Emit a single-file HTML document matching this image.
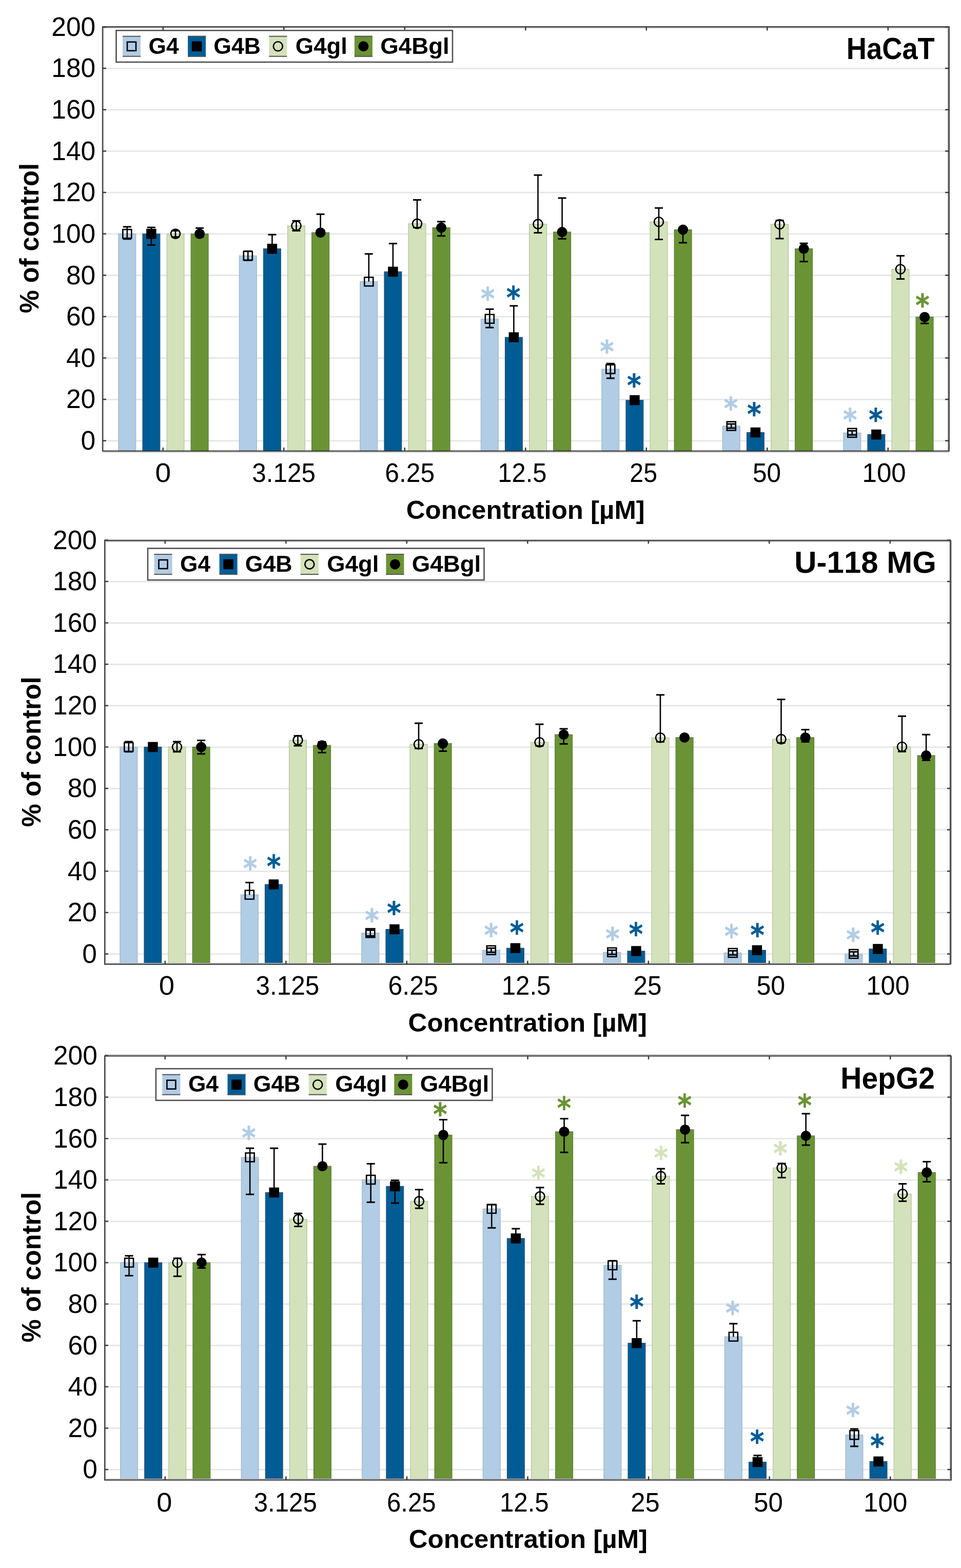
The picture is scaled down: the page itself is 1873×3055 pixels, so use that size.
<!DOCTYPE html>
<html><head><meta charset="utf-8"><title>Cell viability charts</title>
<style>html,body{margin:0;padding:0;background:#fff}svg{display:block} text{font-kerning:none;font-feature-settings:"kern" 0}</style></head>
<body>
<svg width="1873" height="3055" viewBox="0 0 1873 3055">
<rect width="1873" height="3055" fill="#fff"/>
<line x1="200" y1="858.90" x2="1849" y2="858.90" stroke="#e6e6e6" stroke-width="2.8"/>
<line x1="200" y1="778.28" x2="1849" y2="778.28" stroke="#e6e6e6" stroke-width="2.8"/>
<line x1="200" y1="697.66" x2="1849" y2="697.66" stroke="#e6e6e6" stroke-width="2.8"/>
<line x1="200" y1="617.04" x2="1849" y2="617.04" stroke="#e6e6e6" stroke-width="2.8"/>
<line x1="200" y1="536.42" x2="1849" y2="536.42" stroke="#e6e6e6" stroke-width="2.8"/>
<line x1="200" y1="455.80" x2="1849" y2="455.80" stroke="#e6e6e6" stroke-width="2.8"/>
<line x1="200" y1="375.18" x2="1849" y2="375.18" stroke="#e6e6e6" stroke-width="2.8"/>
<line x1="200" y1="294.56" x2="1849" y2="294.56" stroke="#e6e6e6" stroke-width="2.8"/>
<line x1="200" y1="213.94" x2="1849" y2="213.94" stroke="#e6e6e6" stroke-width="2.8"/>
<line x1="200" y1="133.32" x2="1849" y2="133.32" stroke="#e6e6e6" stroke-width="2.8"/>
<line x1="200" y1="52.70" x2="1849" y2="52.70" stroke="#e6e6e6" stroke-width="2.8"/>
<rect x="230.90" y="455.60" width="33.8" height="423.40" fill="#b1cce5" stroke="#9fb4c8" stroke-width="1.2"/>
<rect x="278.00" y="455.60" width="33.8" height="423.40" fill="#005c95" stroke="#2b5578" stroke-width="1.2"/>
<rect x="325.10" y="455.60" width="33.8" height="423.40" fill="#d3e2ba" stroke="#b3c19f" stroke-width="1.2"/>
<rect x="372.20" y="455.60" width="33.8" height="423.40" fill="#6a9335" stroke="#5b7a3a" stroke-width="1.2"/>
<rect x="466.40" y="498.33" width="33.8" height="380.67" fill="#b1cce5" stroke="#9fb4c8" stroke-width="1.2"/>
<rect x="513.50" y="484.62" width="33.8" height="394.38" fill="#005c95" stroke="#2b5578" stroke-width="1.2"/>
<rect x="560.60" y="439.88" width="33.8" height="439.12" fill="#d3e2ba" stroke="#b3c19f" stroke-width="1.2"/>
<rect x="607.70" y="453.18" width="33.8" height="425.82" fill="#6a9335" stroke="#5b7a3a" stroke-width="1.2"/>
<rect x="701.90" y="548.72" width="33.8" height="330.28" fill="#b1cce5" stroke="#9fb4c8" stroke-width="1.2"/>
<rect x="749.00" y="529.37" width="33.8" height="349.63" fill="#005c95" stroke="#2b5578" stroke-width="1.2"/>
<rect x="796.10" y="435.85" width="33.8" height="443.15" fill="#d3e2ba" stroke="#b3c19f" stroke-width="1.2"/>
<rect x="843.20" y="443.51" width="33.8" height="435.49" fill="#6a9335" stroke="#5b7a3a" stroke-width="1.2"/>
<rect x="937.40" y="621.27" width="33.8" height="257.73" fill="#b1cce5" stroke="#9fb4c8" stroke-width="1.2"/>
<rect x="984.50" y="657.15" width="33.8" height="221.85" fill="#005c95" stroke="#2b5578" stroke-width="1.2"/>
<rect x="1031.60" y="436.65" width="33.8" height="442.35" fill="#d3e2ba" stroke="#b3c19f" stroke-width="1.2"/>
<rect x="1078.70" y="451.97" width="33.8" height="427.03" fill="#6a9335" stroke="#5b7a3a" stroke-width="1.2"/>
<rect x="1172.90" y="719.23" width="33.8" height="159.77" fill="#b1cce5" stroke="#9fb4c8" stroke-width="1.2"/>
<rect x="1220.00" y="779.69" width="33.8" height="99.31" fill="#005c95" stroke="#2b5578" stroke-width="1.2"/>
<rect x="1267.10" y="432.22" width="33.8" height="446.78" fill="#d3e2ba" stroke="#b3c19f" stroke-width="1.2"/>
<rect x="1314.20" y="447.54" width="33.8" height="431.46" fill="#6a9335" stroke="#5b7a3a" stroke-width="1.2"/>
<rect x="1408.40" y="830.08" width="33.8" height="48.92" fill="#b1cce5" stroke="#9fb4c8" stroke-width="1.2"/>
<rect x="1455.50" y="842.58" width="33.8" height="36.42" fill="#005c95" stroke="#2b5578" stroke-width="1.2"/>
<rect x="1502.60" y="437.06" width="33.8" height="441.94" fill="#d3e2ba" stroke="#b3c19f" stroke-width="1.2"/>
<rect x="1549.70" y="484.62" width="33.8" height="394.38" fill="#6a9335" stroke="#5b7a3a" stroke-width="1.2"/>
<rect x="1643.90" y="843.38" width="33.8" height="35.62" fill="#b1cce5" stroke="#9fb4c8" stroke-width="1.2"/>
<rect x="1691.00" y="846.61" width="33.8" height="32.39" fill="#005c95" stroke="#2b5578" stroke-width="1.2"/>
<rect x="1738.10" y="524.53" width="33.8" height="354.47" fill="#d3e2ba" stroke="#b3c19f" stroke-width="1.2"/>
<rect x="1785.20" y="617.65" width="33.8" height="261.35" fill="#6a9335" stroke="#5b7a3a" stroke-width="1.2"/>
<line x1="247.80" y1="441.89" x2="247.80" y2="465.68" stroke="#000" stroke-width="2.6"/>
<line x1="239.80" y1="441.89" x2="255.80" y2="441.89" stroke="#000" stroke-width="3"/>
<line x1="239.80" y1="465.68" x2="255.80" y2="465.68" stroke="#000" stroke-width="3"/>
<rect x="239.30" y="447.10" width="17" height="17" fill="none" stroke="#000" stroke-width="2.6"/>
<line x1="294.90" y1="443.10" x2="294.90" y2="477.37" stroke="#000" stroke-width="2.6"/>
<line x1="286.90" y1="443.10" x2="302.90" y2="443.10" stroke="#000" stroke-width="3"/>
<line x1="286.90" y1="477.37" x2="302.90" y2="477.37" stroke="#000" stroke-width="3"/>
<rect x="285.15" y="445.85" width="19.5" height="19.5" fill="#000"/>
<line x1="342.00" y1="449.55" x2="342.00" y2="461.65" stroke="#000" stroke-width="2.6"/>
<line x1="334.00" y1="449.55" x2="350.00" y2="449.55" stroke="#000" stroke-width="3"/>
<line x1="334.00" y1="461.65" x2="350.00" y2="461.65" stroke="#000" stroke-width="3"/>
<circle cx="342.00" cy="455.60" r="9" fill="none" stroke="#000" stroke-width="2.6"/>
<line x1="389.10" y1="444.31" x2="389.10" y2="461.65" stroke="#000" stroke-width="2.6"/>
<line x1="381.10" y1="444.31" x2="397.10" y2="444.31" stroke="#000" stroke-width="3"/>
<line x1="381.10" y1="461.65" x2="397.10" y2="461.65" stroke="#000" stroke-width="3"/>
<circle cx="389.10" cy="455.60" r="10" fill="#000"/>
<line x1="483.30" y1="489.46" x2="483.30" y2="507.20" stroke="#000" stroke-width="2.6"/>
<line x1="475.30" y1="489.46" x2="491.30" y2="489.46" stroke="#000" stroke-width="3"/>
<line x1="475.30" y1="507.20" x2="491.30" y2="507.20" stroke="#000" stroke-width="3"/>
<rect x="474.80" y="489.83" width="17" height="17" fill="none" stroke="#000" stroke-width="2.6"/>
<line x1="530.40" y1="457.21" x2="530.40" y2="484.62" stroke="#000" stroke-width="2.6"/>
<line x1="522.40" y1="457.21" x2="538.40" y2="457.21" stroke="#000" stroke-width="3"/>
<rect x="520.65" y="474.87" width="19.5" height="19.5" fill="#000"/>
<line x1="577.50" y1="430.20" x2="577.50" y2="449.55" stroke="#000" stroke-width="2.6"/>
<line x1="569.50" y1="430.20" x2="585.50" y2="430.20" stroke="#000" stroke-width="3"/>
<line x1="569.50" y1="449.55" x2="585.50" y2="449.55" stroke="#000" stroke-width="3"/>
<circle cx="577.50" cy="439.88" r="9" fill="none" stroke="#000" stroke-width="2.6"/>
<line x1="624.60" y1="417.31" x2="624.60" y2="453.18" stroke="#000" stroke-width="2.6"/>
<line x1="616.60" y1="417.31" x2="632.60" y2="417.31" stroke="#000" stroke-width="3"/>
<circle cx="624.60" cy="453.18" r="10" fill="#000"/>
<line x1="718.80" y1="494.70" x2="718.80" y2="548.72" stroke="#000" stroke-width="2.6"/>
<line x1="710.80" y1="494.70" x2="726.80" y2="494.70" stroke="#000" stroke-width="3"/>
<rect x="710.30" y="540.22" width="17" height="17" fill="none" stroke="#000" stroke-width="2.6"/>
<line x1="765.90" y1="474.55" x2="765.90" y2="529.37" stroke="#000" stroke-width="2.6"/>
<line x1="757.90" y1="474.55" x2="773.90" y2="474.55" stroke="#000" stroke-width="3"/>
<rect x="756.15" y="519.62" width="19.5" height="19.5" fill="#000"/>
<line x1="813.00" y1="389.49" x2="813.00" y2="443.51" stroke="#000" stroke-width="2.6"/>
<line x1="805.00" y1="389.49" x2="821.00" y2="389.49" stroke="#000" stroke-width="3"/>
<line x1="805.00" y1="443.51" x2="821.00" y2="443.51" stroke="#000" stroke-width="3"/>
<circle cx="813.00" cy="435.85" r="9" fill="none" stroke="#000" stroke-width="2.6"/>
<line x1="860.10" y1="431.82" x2="860.10" y2="459.63" stroke="#000" stroke-width="2.6"/>
<line x1="852.10" y1="431.82" x2="868.10" y2="431.82" stroke="#000" stroke-width="3"/>
<line x1="852.10" y1="459.63" x2="868.10" y2="459.63" stroke="#000" stroke-width="3"/>
<circle cx="860.10" cy="443.51" r="10" fill="#000"/>
<line x1="954.30" y1="602.33" x2="954.30" y2="638.20" stroke="#000" stroke-width="2.6"/>
<line x1="946.30" y1="602.33" x2="962.30" y2="602.33" stroke="#000" stroke-width="3"/>
<line x1="946.30" y1="638.20" x2="962.30" y2="638.20" stroke="#000" stroke-width="3"/>
<rect x="945.80" y="612.77" width="17" height="17" fill="none" stroke="#000" stroke-width="2.6"/>
<text transform="translate(936.95,602.28) scale(0.9,1)" font-family="'DejaVu Sans', sans-serif" font-weight="bold" font-size="58" fill="#b1cce5" stroke="#b1cce5" stroke-width="0.6">*</text>
<line x1="1001.40" y1="595.88" x2="1001.40" y2="657.15" stroke="#000" stroke-width="2.6"/>
<line x1="993.40" y1="595.88" x2="1009.40" y2="595.88" stroke="#000" stroke-width="3"/>
<rect x="991.65" y="647.40" width="19.5" height="19.5" fill="#000"/>
<text transform="translate(986.95,599.88) scale(0.9,1)" font-family="'DejaVu Sans', sans-serif" font-weight="bold" font-size="58" fill="#005c95" stroke="#005c95" stroke-width="0.6">*</text>
<line x1="1048.50" y1="341.12" x2="1048.50" y2="453.58" stroke="#000" stroke-width="2.6"/>
<line x1="1040.50" y1="341.12" x2="1056.50" y2="341.12" stroke="#000" stroke-width="3"/>
<line x1="1040.50" y1="453.58" x2="1056.50" y2="453.58" stroke="#000" stroke-width="3"/>
<circle cx="1048.50" cy="436.65" r="9" fill="none" stroke="#000" stroke-width="2.6"/>
<line x1="1095.60" y1="385.86" x2="1095.60" y2="465.27" stroke="#000" stroke-width="2.6"/>
<line x1="1087.60" y1="385.86" x2="1103.60" y2="385.86" stroke="#000" stroke-width="3"/>
<line x1="1087.60" y1="465.27" x2="1103.60" y2="465.27" stroke="#000" stroke-width="3"/>
<circle cx="1095.60" cy="451.97" r="10" fill="#000"/>
<line x1="1189.80" y1="708.34" x2="1189.80" y2="736.96" stroke="#000" stroke-width="2.6"/>
<line x1="1181.80" y1="708.34" x2="1197.80" y2="708.34" stroke="#000" stroke-width="3"/>
<line x1="1181.80" y1="736.96" x2="1197.80" y2="736.96" stroke="#000" stroke-width="3"/>
<rect x="1181.30" y="710.73" width="17" height="17" fill="none" stroke="#000" stroke-width="2.6"/>
<text transform="translate(1169.35,705.48) scale(0.9,1)" font-family="'DejaVu Sans', sans-serif" font-weight="bold" font-size="58" fill="#b1cce5" stroke="#b1cce5" stroke-width="0.6">*</text>
<line x1="1236.90" y1="775.66" x2="1236.90" y2="783.72" stroke="#000" stroke-width="2.6"/>
<line x1="1228.90" y1="775.66" x2="1244.90" y2="775.66" stroke="#000" stroke-width="3"/>
<line x1="1228.90" y1="783.72" x2="1244.90" y2="783.72" stroke="#000" stroke-width="3"/>
<rect x="1227.15" y="769.94" width="19.5" height="19.5" fill="#000"/>
<text transform="translate(1222.15,770.58) scale(0.9,1)" font-family="'DejaVu Sans', sans-serif" font-weight="bold" font-size="58" fill="#005c95" stroke="#005c95" stroke-width="0.6">*</text>
<line x1="1284.00" y1="405.21" x2="1284.00" y2="466.48" stroke="#000" stroke-width="2.6"/>
<line x1="1276.00" y1="405.21" x2="1292.00" y2="405.21" stroke="#000" stroke-width="3"/>
<line x1="1276.00" y1="466.48" x2="1292.00" y2="466.48" stroke="#000" stroke-width="3"/>
<circle cx="1284.00" cy="432.22" r="9" fill="none" stroke="#000" stroke-width="2.6"/>
<line x1="1331.10" y1="447.54" x2="1331.10" y2="472.93" stroke="#000" stroke-width="2.6"/>
<line x1="1323.10" y1="472.93" x2="1339.10" y2="472.93" stroke="#000" stroke-width="3"/>
<circle cx="1331.10" cy="447.54" r="10" fill="#000"/>
<line x1="1425.30" y1="826.05" x2="1425.30" y2="834.11" stroke="#000" stroke-width="2.6"/>
<line x1="1417.30" y1="826.05" x2="1433.30" y2="826.05" stroke="#000" stroke-width="3"/>
<line x1="1417.30" y1="834.11" x2="1433.30" y2="834.11" stroke="#000" stroke-width="3"/>
<rect x="1416.80" y="821.58" width="17" height="17" fill="none" stroke="#000" stroke-width="2.6"/>
<text transform="translate(1410.65,816.38) scale(0.9,1)" font-family="'DejaVu Sans', sans-serif" font-weight="bold" font-size="58" fill="#b1cce5" stroke="#b1cce5" stroke-width="0.6">*</text>
<line x1="1472.40" y1="838.55" x2="1472.40" y2="846.61" stroke="#000" stroke-width="2.6"/>
<line x1="1464.40" y1="838.55" x2="1480.40" y2="838.55" stroke="#000" stroke-width="3"/>
<line x1="1464.40" y1="846.61" x2="1480.40" y2="846.61" stroke="#000" stroke-width="3"/>
<rect x="1462.65" y="832.83" width="19.5" height="19.5" fill="#000"/>
<text transform="translate(1456.25,827.48) scale(0.9,1)" font-family="'DejaVu Sans', sans-serif" font-weight="bold" font-size="58" fill="#005c95" stroke="#005c95" stroke-width="0.6">*</text>
<line x1="1519.50" y1="429.40" x2="1519.50" y2="464.87" stroke="#000" stroke-width="2.6"/>
<line x1="1511.50" y1="429.40" x2="1527.50" y2="429.40" stroke="#000" stroke-width="3"/>
<line x1="1511.50" y1="464.87" x2="1527.50" y2="464.87" stroke="#000" stroke-width="3"/>
<circle cx="1519.50" cy="437.06" r="9" fill="none" stroke="#000" stroke-width="2.6"/>
<line x1="1566.60" y1="474.14" x2="1566.60" y2="509.62" stroke="#000" stroke-width="2.6"/>
<line x1="1558.60" y1="474.14" x2="1574.60" y2="474.14" stroke="#000" stroke-width="3"/>
<line x1="1558.60" y1="509.62" x2="1574.60" y2="509.62" stroke="#000" stroke-width="3"/>
<circle cx="1566.60" cy="484.62" r="10" fill="#000"/>
<line x1="1660.80" y1="839.35" x2="1660.80" y2="847.41" stroke="#000" stroke-width="2.6"/>
<line x1="1652.80" y1="839.35" x2="1668.80" y2="839.35" stroke="#000" stroke-width="3"/>
<line x1="1652.80" y1="847.41" x2="1668.80" y2="847.41" stroke="#000" stroke-width="3"/>
<rect x="1652.30" y="834.88" width="17" height="17" fill="none" stroke="#000" stroke-width="2.6"/>
<text transform="translate(1643.05,837.98) scale(0.9,1)" font-family="'DejaVu Sans', sans-serif" font-weight="bold" font-size="58" fill="#b1cce5" stroke="#b1cce5" stroke-width="0.6">*</text>
<line x1="1707.90" y1="842.58" x2="1707.90" y2="850.64" stroke="#000" stroke-width="2.6"/>
<line x1="1699.90" y1="842.58" x2="1715.90" y2="842.58" stroke="#000" stroke-width="3"/>
<line x1="1699.90" y1="850.64" x2="1715.90" y2="850.64" stroke="#000" stroke-width="3"/>
<rect x="1698.15" y="836.86" width="19.5" height="19.5" fill="#000"/>
<text transform="translate(1693.25,837.98) scale(0.9,1)" font-family="'DejaVu Sans', sans-serif" font-weight="bold" font-size="58" fill="#005c95" stroke="#005c95" stroke-width="0.6">*</text>
<line x1="1755.00" y1="498.33" x2="1755.00" y2="543.48" stroke="#000" stroke-width="2.6"/>
<line x1="1747.00" y1="498.33" x2="1763.00" y2="498.33" stroke="#000" stroke-width="3"/>
<line x1="1747.00" y1="543.48" x2="1763.00" y2="543.48" stroke="#000" stroke-width="3"/>
<circle cx="1755.00" cy="524.53" r="9" fill="none" stroke="#000" stroke-width="2.6"/>
<line x1="1802.10" y1="617.65" x2="1802.10" y2="630.14" stroke="#000" stroke-width="2.6"/>
<line x1="1794.10" y1="630.14" x2="1810.10" y2="630.14" stroke="#000" stroke-width="3"/>
<circle cx="1802.10" cy="617.65" r="10" fill="#000"/>
<text transform="translate(1784.35,615.38) scale(0.9,1)" font-family="'DejaVu Sans', sans-serif" font-weight="bold" font-size="58" fill="#6a9335" stroke="#6a9335" stroke-width="0.6">*</text>
<line x1="201.7" y1="52.1" x2="201.7" y2="878.6" stroke="#bdbdbd" stroke-width="2"/>
<line x1="1848.1" y1="52.1" x2="1848.1" y2="878.6" stroke="#8c8c8c" stroke-width="2"/>
<line x1="199.8" y1="54.0" x2="1849.9" y2="54.0" stroke="#a8a8a8" stroke-width="2"/>
<line x1="199.8" y1="880.4" x2="1849.9" y2="880.4" stroke="#b4b4b4" stroke-width="2"/>
<rect x="199.8" y="52.1" width="1650.10" height="826.50" fill="none" stroke="#333" stroke-width="1.9"/>
<line x1="200" y1="858.70" x2="207" y2="858.70" stroke="#3c3c3c" stroke-width="2.5"/>
<line x1="1842" y1="858.70" x2="1849" y2="858.70" stroke="#3c3c3c" stroke-width="2.5"/>
<line x1="200" y1="778.08" x2="207" y2="778.08" stroke="#3c3c3c" stroke-width="2.5"/>
<line x1="1842" y1="778.08" x2="1849" y2="778.08" stroke="#3c3c3c" stroke-width="2.5"/>
<line x1="200" y1="697.46" x2="207" y2="697.46" stroke="#3c3c3c" stroke-width="2.5"/>
<line x1="1842" y1="697.46" x2="1849" y2="697.46" stroke="#3c3c3c" stroke-width="2.5"/>
<line x1="200" y1="616.84" x2="207" y2="616.84" stroke="#3c3c3c" stroke-width="2.5"/>
<line x1="1842" y1="616.84" x2="1849" y2="616.84" stroke="#3c3c3c" stroke-width="2.5"/>
<line x1="200" y1="536.22" x2="207" y2="536.22" stroke="#3c3c3c" stroke-width="2.5"/>
<line x1="1842" y1="536.22" x2="1849" y2="536.22" stroke="#3c3c3c" stroke-width="2.5"/>
<line x1="200" y1="455.60" x2="207" y2="455.60" stroke="#3c3c3c" stroke-width="2.5"/>
<line x1="1842" y1="455.60" x2="1849" y2="455.60" stroke="#3c3c3c" stroke-width="2.5"/>
<line x1="200" y1="374.98" x2="207" y2="374.98" stroke="#3c3c3c" stroke-width="2.5"/>
<line x1="1842" y1="374.98" x2="1849" y2="374.98" stroke="#3c3c3c" stroke-width="2.5"/>
<line x1="200" y1="294.36" x2="207" y2="294.36" stroke="#3c3c3c" stroke-width="2.5"/>
<line x1="1842" y1="294.36" x2="1849" y2="294.36" stroke="#3c3c3c" stroke-width="2.5"/>
<line x1="200" y1="213.74" x2="207" y2="213.74" stroke="#3c3c3c" stroke-width="2.5"/>
<line x1="1842" y1="213.74" x2="1849" y2="213.74" stroke="#3c3c3c" stroke-width="2.5"/>
<line x1="200" y1="133.12" x2="207" y2="133.12" stroke="#3c3c3c" stroke-width="2.5"/>
<line x1="1842" y1="133.12" x2="1849" y2="133.12" stroke="#3c3c3c" stroke-width="2.5"/>
<line x1="200" y1="52.50" x2="207" y2="52.50" stroke="#3c3c3c" stroke-width="2.5"/>
<line x1="1842" y1="52.50" x2="1849" y2="52.50" stroke="#3c3c3c" stroke-width="2.5"/>
<line x1="317.80" y1="52.5" x2="317.80" y2="59.5" stroke="#3c3c3c" stroke-width="2.5"/>
<line x1="317.80" y1="872" x2="317.80" y2="879" stroke="#3c3c3c" stroke-width="2.5"/>
<line x1="553.30" y1="52.5" x2="553.30" y2="59.5" stroke="#3c3c3c" stroke-width="2.5"/>
<line x1="553.30" y1="872" x2="553.30" y2="879" stroke="#3c3c3c" stroke-width="2.5"/>
<line x1="788.80" y1="52.5" x2="788.80" y2="59.5" stroke="#3c3c3c" stroke-width="2.5"/>
<line x1="788.80" y1="872" x2="788.80" y2="879" stroke="#3c3c3c" stroke-width="2.5"/>
<line x1="1024.30" y1="52.5" x2="1024.30" y2="59.5" stroke="#3c3c3c" stroke-width="2.5"/>
<line x1="1024.30" y1="872" x2="1024.30" y2="879" stroke="#3c3c3c" stroke-width="2.5"/>
<line x1="1259.80" y1="52.5" x2="1259.80" y2="59.5" stroke="#3c3c3c" stroke-width="2.5"/>
<line x1="1259.80" y1="872" x2="1259.80" y2="879" stroke="#3c3c3c" stroke-width="2.5"/>
<line x1="1495.30" y1="52.5" x2="1495.30" y2="59.5" stroke="#3c3c3c" stroke-width="2.5"/>
<line x1="1495.30" y1="872" x2="1495.30" y2="879" stroke="#3c3c3c" stroke-width="2.5"/>
<line x1="1730.80" y1="52.5" x2="1730.80" y2="59.5" stroke="#3c3c3c" stroke-width="2.5"/>
<line x1="1730.80" y1="872" x2="1730.80" y2="879" stroke="#3c3c3c" stroke-width="2.5"/>
<text transform="translate(157.59,876.00) scale(0.984,1)" font-family="'Liberation Sans', Arial, sans-serif" font-size="52.3" font-weight="normal" fill="#000">0</text>
<text transform="translate(128.97,795.38) scale(0.984,1)" font-family="'Liberation Sans', Arial, sans-serif" font-size="52.3" font-weight="normal" fill="#000">20</text>
<text transform="translate(128.97,714.76) scale(0.984,1)" font-family="'Liberation Sans', Arial, sans-serif" font-size="52.3" font-weight="normal" fill="#000">40</text>
<text transform="translate(128.97,634.14) scale(0.984,1)" font-family="'Liberation Sans', Arial, sans-serif" font-size="52.3" font-weight="normal" fill="#000">60</text>
<text transform="translate(128.97,553.52) scale(0.984,1)" font-family="'Liberation Sans', Arial, sans-serif" font-size="52.3" font-weight="normal" fill="#000">80</text>
<text transform="translate(100.35,472.90) scale(0.984,1)" font-family="'Liberation Sans', Arial, sans-serif" font-size="52.3" font-weight="normal" fill="#000">100</text>
<text transform="translate(100.35,392.28) scale(0.984,1)" font-family="'Liberation Sans', Arial, sans-serif" font-size="52.3" font-weight="normal" fill="#000">120</text>
<text transform="translate(100.35,311.66) scale(0.984,1)" font-family="'Liberation Sans', Arial, sans-serif" font-size="52.3" font-weight="normal" fill="#000">140</text>
<text transform="translate(100.35,231.04) scale(0.984,1)" font-family="'Liberation Sans', Arial, sans-serif" font-size="52.3" font-weight="normal" fill="#000">160</text>
<text transform="translate(100.35,150.42) scale(0.984,1)" font-family="'Liberation Sans', Arial, sans-serif" font-size="52.3" font-weight="normal" fill="#000">180</text>
<text transform="translate(100.35,69.80) scale(0.984,1)" font-family="'Liberation Sans', Arial, sans-serif" font-size="52.3" font-weight="normal" fill="#000">200</text>
<text transform="translate(75.20,610.26) rotate(-90) scale(0.9642,1)" font-family="'Liberation Sans', Arial, sans-serif" font-size="52.5" font-weight="bold" fill="#000">% of control</text>
<text transform="translate(302.44,938.50) scale(1.0560,1)" font-family="'Liberation Sans', Arial, sans-serif" font-size="52.3" font-weight="normal" fill="#000">0</text>
<text transform="translate(491.32,938.50) scale(0.9448,1)" font-family="'Liberation Sans', Arial, sans-serif" font-size="52.3" font-weight="normal" fill="#000">3.125</text>
<text transform="translate(750.27,938.50) scale(0.9511,1)" font-family="'Liberation Sans', Arial, sans-serif" font-size="52.3" font-weight="normal" fill="#000">6.25</text>
<text transform="translate(970.27,938.50) scale(0.9350,1)" font-family="'Liberation Sans', Arial, sans-serif" font-size="52.3" font-weight="normal" fill="#000">12.5</text>
<text transform="translate(1227.27,938.50) scale(0.9241,1)" font-family="'Liberation Sans', Arial, sans-serif" font-size="52.3" font-weight="normal" fill="#000">25</text>
<text transform="translate(1467.01,938.50) scale(0.9494,1)" font-family="'Liberation Sans', Arial, sans-serif" font-size="52.3" font-weight="normal" fill="#000">50</text>
<text transform="translate(1680.51,938.50) scale(0.9774,1)" font-family="'Liberation Sans', Arial, sans-serif" font-size="52.3" font-weight="normal" fill="#000">100</text>
<text transform="translate(791.81,1011.20) scale(1.0024,1)" font-family="'Liberation Sans', Arial, sans-serif" font-size="50.8" font-weight="bold" fill="#000">Concentration [µM]</text>
<text transform="translate(1649.77,115.40) scale(0.9252,1)" font-family="'Liberation Sans', Arial, sans-serif" font-size="58.7" font-weight="bold" fill="#000">HaCaT</text>
<rect x="226.50" y="59.30" width="655.5" height="61.7" fill="#fff" stroke="#505050" stroke-width="2.6"/>
<rect x="239.00" y="69.80" width="35" height="41" fill="#b1cce5"/>
<line x1="239.00" y1="70.80" x2="274.00" y2="70.80" stroke="#555" stroke-width="2"/>
<line x1="239.00" y1="109.80" x2="274.00" y2="109.80" stroke="#555" stroke-width="2"/>
<rect x="248.00" y="81.80" width="17" height="17" fill="none" stroke="#000" stroke-width="2.6"/>
<text transform="translate(289.48,104.50) scale(0.9970,1)" font-family="'Liberation Sans', Arial, sans-serif" font-size="44.4" font-weight="bold" fill="#000">G4</text>
<rect x="366.10" y="69.80" width="35" height="41" fill="#005c95"/>
<line x1="366.10" y1="70.80" x2="401.10" y2="70.80" stroke="#555" stroke-width="2"/>
<line x1="366.10" y1="109.80" x2="401.10" y2="109.80" stroke="#555" stroke-width="2"/>
<rect x="373.85" y="80.55" width="19.5" height="19.5" fill="#000"/>
<text transform="translate(416.27,104.50) scale(1.0062,1)" font-family="'Liberation Sans', Arial, sans-serif" font-size="44.4" font-weight="bold" fill="#000">G4B</text>
<rect x="524.30" y="69.80" width="35" height="41" fill="#d3e2ba"/>
<line x1="524.30" y1="70.80" x2="559.30" y2="70.80" stroke="#555" stroke-width="2"/>
<line x1="524.30" y1="109.80" x2="559.30" y2="109.80" stroke="#555" stroke-width="2"/>
<circle cx="541.80" cy="90.30" r="9" fill="none" stroke="#000" stroke-width="2.6"/>
<text transform="translate(575.83,104.50) scale(1.0243,1)" font-family="'Liberation Sans', Arial, sans-serif" font-size="44.4" font-weight="bold" fill="#000">G4gl</text>
<rect x="690.90" y="69.80" width="35" height="41" fill="#6a9335"/>
<line x1="690.90" y1="70.80" x2="725.90" y2="70.80" stroke="#555" stroke-width="2"/>
<line x1="690.90" y1="109.80" x2="725.90" y2="109.80" stroke="#555" stroke-width="2"/>
<circle cx="708.40" cy="90.30" r="10" fill="#000"/>
<text transform="translate(741.23,104.50) scale(1.0295,1)" font-family="'Liberation Sans', Arial, sans-serif" font-size="44.4" font-weight="bold" fill="#000">G4Bgl</text>
<line x1="204" y1="1858.80" x2="1853" y2="1858.80" stroke="#e6e6e6" stroke-width="2.8"/>
<line x1="204" y1="1778.17" x2="1853" y2="1778.17" stroke="#e6e6e6" stroke-width="2.8"/>
<line x1="204" y1="1697.54" x2="1853" y2="1697.54" stroke="#e6e6e6" stroke-width="2.8"/>
<line x1="204" y1="1616.91" x2="1853" y2="1616.91" stroke="#e6e6e6" stroke-width="2.8"/>
<line x1="204" y1="1536.28" x2="1853" y2="1536.28" stroke="#e6e6e6" stroke-width="2.8"/>
<line x1="204" y1="1455.65" x2="1853" y2="1455.65" stroke="#e6e6e6" stroke-width="2.8"/>
<line x1="204" y1="1375.02" x2="1853" y2="1375.02" stroke="#e6e6e6" stroke-width="2.8"/>
<line x1="204" y1="1294.39" x2="1853" y2="1294.39" stroke="#e6e6e6" stroke-width="2.8"/>
<line x1="204" y1="1213.76" x2="1853" y2="1213.76" stroke="#e6e6e6" stroke-width="2.8"/>
<line x1="204" y1="1133.13" x2="1853" y2="1133.13" stroke="#e6e6e6" stroke-width="2.8"/>
<line x1="204" y1="1052.50" x2="1853" y2="1052.50" stroke="#e6e6e6" stroke-width="2.8"/>
<rect x="233.90" y="1455.45" width="33.8" height="423.35" fill="#b1cce5" stroke="#9fb4c8" stroke-width="1.2"/>
<rect x="281.00" y="1455.45" width="33.8" height="423.35" fill="#005c95" stroke="#2b5578" stroke-width="1.2"/>
<rect x="328.10" y="1455.45" width="33.8" height="423.35" fill="#d3e2ba" stroke="#b3c19f" stroke-width="1.2"/>
<rect x="375.20" y="1455.45" width="33.8" height="423.35" fill="#6a9335" stroke="#5b7a3a" stroke-width="1.2"/>
<rect x="469.40" y="1743.30" width="33.8" height="135.50" fill="#b1cce5" stroke="#9fb4c8" stroke-width="1.2"/>
<rect x="516.50" y="1723.14" width="33.8" height="155.66" fill="#005c95" stroke="#2b5578" stroke-width="1.2"/>
<rect x="563.60" y="1442.15" width="33.8" height="436.65" fill="#d3e2ba" stroke="#b3c19f" stroke-width="1.2"/>
<rect x="610.70" y="1452.22" width="33.8" height="426.58" fill="#6a9335" stroke="#5b7a3a" stroke-width="1.2"/>
<rect x="704.90" y="1817.88" width="33.8" height="60.92" fill="#b1cce5" stroke="#9fb4c8" stroke-width="1.2"/>
<rect x="752.00" y="1810.63" width="33.8" height="68.17" fill="#005c95" stroke="#2b5578" stroke-width="1.2"/>
<rect x="799.10" y="1450.21" width="33.8" height="428.59" fill="#d3e2ba" stroke="#b3c19f" stroke-width="1.2"/>
<rect x="846.20" y="1448.60" width="33.8" height="430.20" fill="#6a9335" stroke="#5b7a3a" stroke-width="1.2"/>
<rect x="940.40" y="1851.34" width="33.8" height="27.46" fill="#b1cce5" stroke="#9fb4c8" stroke-width="1.2"/>
<rect x="987.50" y="1847.31" width="33.8" height="31.49" fill="#005c95" stroke="#2b5578" stroke-width="1.2"/>
<rect x="1034.60" y="1446.18" width="33.8" height="432.62" fill="#d3e2ba" stroke="#b3c19f" stroke-width="1.2"/>
<rect x="1081.70" y="1431.26" width="33.8" height="447.54" fill="#6a9335" stroke="#5b7a3a" stroke-width="1.2"/>
<rect x="1175.90" y="1855.37" width="33.8" height="23.43" fill="#b1cce5" stroke="#9fb4c8" stroke-width="1.2"/>
<rect x="1223.00" y="1852.96" width="33.8" height="25.84" fill="#005c95" stroke="#2b5578" stroke-width="1.2"/>
<rect x="1270.10" y="1437.31" width="33.8" height="441.49" fill="#d3e2ba" stroke="#b3c19f" stroke-width="1.2"/>
<rect x="1317.20" y="1436.91" width="33.8" height="441.89" fill="#6a9335" stroke="#5b7a3a" stroke-width="1.2"/>
<rect x="1411.40" y="1856.58" width="33.8" height="22.22" fill="#b1cce5" stroke="#9fb4c8" stroke-width="1.2"/>
<rect x="1458.50" y="1851.34" width="33.8" height="27.46" fill="#005c95" stroke="#2b5578" stroke-width="1.2"/>
<rect x="1505.60" y="1440.13" width="33.8" height="438.67" fill="#d3e2ba" stroke="#b3c19f" stroke-width="1.2"/>
<rect x="1552.70" y="1436.91" width="33.8" height="441.89" fill="#6a9335" stroke="#5b7a3a" stroke-width="1.2"/>
<rect x="1646.90" y="1858.60" width="33.8" height="20.20" fill="#b1cce5" stroke="#9fb4c8" stroke-width="1.2"/>
<rect x="1694.00" y="1848.92" width="33.8" height="29.88" fill="#005c95" stroke="#2b5578" stroke-width="1.2"/>
<rect x="1741.10" y="1455.05" width="33.8" height="423.75" fill="#d3e2ba" stroke="#b3c19f" stroke-width="1.2"/>
<rect x="1788.20" y="1471.98" width="33.8" height="406.82" fill="#6a9335" stroke="#5b7a3a" stroke-width="1.2"/>
<line x1="250.80" y1="1444.97" x2="250.80" y2="1464.72" stroke="#000" stroke-width="2.6"/>
<line x1="242.80" y1="1444.97" x2="258.80" y2="1444.97" stroke="#000" stroke-width="3"/>
<line x1="242.80" y1="1464.72" x2="258.80" y2="1464.72" stroke="#000" stroke-width="3"/>
<rect x="242.30" y="1446.95" width="17" height="17" fill="none" stroke="#000" stroke-width="2.6"/>
<line x1="297.90" y1="1447.39" x2="297.90" y2="1463.51" stroke="#000" stroke-width="2.6"/>
<line x1="289.90" y1="1447.39" x2="305.90" y2="1447.39" stroke="#000" stroke-width="3"/>
<line x1="289.90" y1="1463.51" x2="305.90" y2="1463.51" stroke="#000" stroke-width="3"/>
<rect x="288.15" y="1445.70" width="19.5" height="19.5" fill="#000"/>
<line x1="345.00" y1="1444.97" x2="345.00" y2="1464.72" stroke="#000" stroke-width="2.6"/>
<line x1="337.00" y1="1444.97" x2="353.00" y2="1444.97" stroke="#000" stroke-width="3"/>
<line x1="337.00" y1="1464.72" x2="353.00" y2="1464.72" stroke="#000" stroke-width="3"/>
<circle cx="345.00" cy="1455.45" r="9" fill="none" stroke="#000" stroke-width="2.6"/>
<line x1="392.10" y1="1442.55" x2="392.10" y2="1468.75" stroke="#000" stroke-width="2.6"/>
<line x1="384.10" y1="1442.55" x2="400.10" y2="1442.55" stroke="#000" stroke-width="3"/>
<line x1="384.10" y1="1468.75" x2="400.10" y2="1468.75" stroke="#000" stroke-width="3"/>
<circle cx="392.10" cy="1455.45" r="10" fill="#000"/>
<line x1="486.30" y1="1719.51" x2="486.30" y2="1743.30" stroke="#000" stroke-width="2.6"/>
<line x1="478.30" y1="1719.51" x2="494.30" y2="1719.51" stroke="#000" stroke-width="3"/>
<rect x="477.80" y="1734.80" width="17" height="17" fill="none" stroke="#000" stroke-width="2.6"/>
<text transform="translate(474.05,1712.48) scale(0.9,1)" font-family="'DejaVu Sans', sans-serif" font-weight="bold" font-size="58" fill="#b1cce5" stroke="#b1cce5" stroke-width="0.6">*</text>
<line x1="533.40" y1="1719.11" x2="533.40" y2="1727.17" stroke="#000" stroke-width="2.6"/>
<line x1="525.40" y1="1719.11" x2="541.40" y2="1719.11" stroke="#000" stroke-width="3"/>
<line x1="525.40" y1="1727.17" x2="541.40" y2="1727.17" stroke="#000" stroke-width="3"/>
<rect x="523.65" y="1713.39" width="19.5" height="19.5" fill="#000"/>
<text transform="translate(520.05,1707.68) scale(0.9,1)" font-family="'DejaVu Sans', sans-serif" font-weight="bold" font-size="58" fill="#005c95" stroke="#005c95" stroke-width="0.6">*</text>
<line x1="580.50" y1="1433.68" x2="580.50" y2="1453.03" stroke="#000" stroke-width="2.6"/>
<line x1="572.50" y1="1433.68" x2="588.50" y2="1433.68" stroke="#000" stroke-width="3"/>
<line x1="572.50" y1="1453.03" x2="588.50" y2="1453.03" stroke="#000" stroke-width="3"/>
<circle cx="580.50" cy="1442.15" r="9" fill="none" stroke="#000" stroke-width="2.6"/>
<line x1="627.60" y1="1445.37" x2="627.60" y2="1466.34" stroke="#000" stroke-width="2.6"/>
<line x1="619.60" y1="1445.37" x2="635.60" y2="1445.37" stroke="#000" stroke-width="3"/>
<line x1="619.60" y1="1466.34" x2="635.60" y2="1466.34" stroke="#000" stroke-width="3"/>
<circle cx="627.60" cy="1452.22" r="10" fill="#000"/>
<line x1="721.80" y1="1812.24" x2="721.80" y2="1823.53" stroke="#000" stroke-width="2.6"/>
<line x1="713.80" y1="1812.24" x2="729.80" y2="1812.24" stroke="#000" stroke-width="3"/>
<line x1="713.80" y1="1823.53" x2="729.80" y2="1823.53" stroke="#000" stroke-width="3"/>
<rect x="713.30" y="1809.38" width="17" height="17" fill="none" stroke="#000" stroke-width="2.6"/>
<text transform="translate(711.35,1813.18) scale(0.9,1)" font-family="'DejaVu Sans', sans-serif" font-weight="bold" font-size="58" fill="#b1cce5" stroke="#b1cce5" stroke-width="0.6">*</text>
<line x1="768.90" y1="1806.19" x2="768.90" y2="1814.25" stroke="#000" stroke-width="2.6"/>
<line x1="760.90" y1="1806.19" x2="776.90" y2="1806.19" stroke="#000" stroke-width="3"/>
<line x1="760.90" y1="1814.25" x2="776.90" y2="1814.25" stroke="#000" stroke-width="3"/>
<rect x="759.15" y="1800.88" width="19.5" height="19.5" fill="#000"/>
<text transform="translate(754.15,1799.18) scale(0.9,1)" font-family="'DejaVu Sans', sans-serif" font-weight="bold" font-size="58" fill="#005c95" stroke="#005c95" stroke-width="0.6">*</text>
<line x1="816.00" y1="1409.09" x2="816.00" y2="1458.27" stroke="#000" stroke-width="2.6"/>
<line x1="808.00" y1="1409.09" x2="824.00" y2="1409.09" stroke="#000" stroke-width="3"/>
<line x1="808.00" y1="1458.27" x2="824.00" y2="1458.27" stroke="#000" stroke-width="3"/>
<circle cx="816.00" cy="1450.21" r="9" fill="none" stroke="#000" stroke-width="2.6"/>
<line x1="863.10" y1="1448.60" x2="863.10" y2="1463.51" stroke="#000" stroke-width="2.6"/>
<line x1="855.10" y1="1463.51" x2="871.10" y2="1463.51" stroke="#000" stroke-width="3"/>
<circle cx="863.10" cy="1448.60" r="10" fill="#000"/>
<line x1="957.30" y1="1847.31" x2="957.30" y2="1855.37" stroke="#000" stroke-width="2.6"/>
<line x1="949.30" y1="1847.31" x2="965.30" y2="1847.31" stroke="#000" stroke-width="3"/>
<line x1="949.30" y1="1855.37" x2="965.30" y2="1855.37" stroke="#000" stroke-width="3"/>
<rect x="948.80" y="1842.84" width="17" height="17" fill="none" stroke="#000" stroke-width="2.6"/>
<text transform="translate(943.55,1842.08) scale(0.9,1)" font-family="'DejaVu Sans', sans-serif" font-weight="bold" font-size="58" fill="#b1cce5" stroke="#b1cce5" stroke-width="0.6">*</text>
<line x1="1004.40" y1="1843.28" x2="1004.40" y2="1851.34" stroke="#000" stroke-width="2.6"/>
<line x1="996.40" y1="1843.28" x2="1012.40" y2="1843.28" stroke="#000" stroke-width="3"/>
<line x1="996.40" y1="1851.34" x2="1012.40" y2="1851.34" stroke="#000" stroke-width="3"/>
<rect x="994.65" y="1837.56" width="19.5" height="19.5" fill="#000"/>
<text transform="translate(993.75,1837.28) scale(0.9,1)" font-family="'DejaVu Sans', sans-serif" font-weight="bold" font-size="58" fill="#005c95" stroke="#005c95" stroke-width="0.6">*</text>
<line x1="1051.50" y1="1411.10" x2="1051.50" y2="1453.43" stroke="#000" stroke-width="2.6"/>
<line x1="1043.50" y1="1411.10" x2="1059.50" y2="1411.10" stroke="#000" stroke-width="3"/>
<line x1="1043.50" y1="1453.43" x2="1059.50" y2="1453.43" stroke="#000" stroke-width="3"/>
<circle cx="1051.50" cy="1446.18" r="9" fill="none" stroke="#000" stroke-width="2.6"/>
<line x1="1098.60" y1="1419.97" x2="1098.60" y2="1449.40" stroke="#000" stroke-width="2.6"/>
<line x1="1090.60" y1="1419.97" x2="1106.60" y2="1419.97" stroke="#000" stroke-width="3"/>
<line x1="1090.60" y1="1449.40" x2="1106.60" y2="1449.40" stroke="#000" stroke-width="3"/>
<circle cx="1098.60" cy="1431.26" r="10" fill="#000"/>
<line x1="1192.80" y1="1851.34" x2="1192.80" y2="1859.41" stroke="#000" stroke-width="2.6"/>
<line x1="1184.80" y1="1851.34" x2="1200.80" y2="1851.34" stroke="#000" stroke-width="3"/>
<line x1="1184.80" y1="1859.41" x2="1200.80" y2="1859.41" stroke="#000" stroke-width="3"/>
<rect x="1184.30" y="1846.87" width="17" height="17" fill="none" stroke="#000" stroke-width="2.6"/>
<text transform="translate(1180.15,1849.08) scale(0.9,1)" font-family="'DejaVu Sans', sans-serif" font-weight="bold" font-size="58" fill="#b1cce5" stroke="#b1cce5" stroke-width="0.6">*</text>
<line x1="1239.90" y1="1848.92" x2="1239.90" y2="1856.99" stroke="#000" stroke-width="2.6"/>
<line x1="1231.90" y1="1848.92" x2="1247.90" y2="1848.92" stroke="#000" stroke-width="3"/>
<line x1="1231.90" y1="1856.99" x2="1247.90" y2="1856.99" stroke="#000" stroke-width="3"/>
<rect x="1230.15" y="1843.21" width="19.5" height="19.5" fill="#000"/>
<text transform="translate(1225.65,1839.58) scale(0.9,1)" font-family="'DejaVu Sans', sans-serif" font-weight="bold" font-size="58" fill="#005c95" stroke="#005c95" stroke-width="0.6">*</text>
<line x1="1287.00" y1="1353.86" x2="1287.00" y2="1445.37" stroke="#000" stroke-width="2.6"/>
<line x1="1279.00" y1="1353.86" x2="1295.00" y2="1353.86" stroke="#000" stroke-width="3"/>
<line x1="1279.00" y1="1445.37" x2="1295.00" y2="1445.37" stroke="#000" stroke-width="3"/>
<circle cx="1287.00" cy="1437.31" r="9" fill="none" stroke="#000" stroke-width="2.6"/>
<line x1="1334.10" y1="1433.28" x2="1334.10" y2="1440.53" stroke="#000" stroke-width="2.6"/>
<line x1="1326.10" y1="1433.28" x2="1342.10" y2="1433.28" stroke="#000" stroke-width="3"/>
<line x1="1326.10" y1="1440.53" x2="1342.10" y2="1440.53" stroke="#000" stroke-width="3"/>
<circle cx="1334.10" cy="1436.91" r="10" fill="#000"/>
<line x1="1428.30" y1="1852.55" x2="1428.30" y2="1860.62" stroke="#000" stroke-width="2.6"/>
<line x1="1420.30" y1="1852.55" x2="1436.30" y2="1852.55" stroke="#000" stroke-width="3"/>
<line x1="1420.30" y1="1860.62" x2="1436.30" y2="1860.62" stroke="#000" stroke-width="3"/>
<rect x="1419.80" y="1848.08" width="17" height="17" fill="none" stroke="#000" stroke-width="2.6"/>
<text transform="translate(1412.05,1843.68) scale(0.9,1)" font-family="'DejaVu Sans', sans-serif" font-weight="bold" font-size="58" fill="#b1cce5" stroke="#b1cce5" stroke-width="0.6">*</text>
<line x1="1475.40" y1="1847.31" x2="1475.40" y2="1855.37" stroke="#000" stroke-width="2.6"/>
<line x1="1467.40" y1="1847.31" x2="1483.40" y2="1847.31" stroke="#000" stroke-width="3"/>
<line x1="1467.40" y1="1855.37" x2="1483.40" y2="1855.37" stroke="#000" stroke-width="3"/>
<rect x="1465.65" y="1841.59" width="19.5" height="19.5" fill="#000"/>
<text transform="translate(1462.55,1842.08) scale(0.9,1)" font-family="'DejaVu Sans', sans-serif" font-weight="bold" font-size="58" fill="#005c95" stroke="#005c95" stroke-width="0.6">*</text>
<line x1="1522.50" y1="1362.73" x2="1522.50" y2="1447.39" stroke="#000" stroke-width="2.6"/>
<line x1="1514.50" y1="1362.73" x2="1530.50" y2="1362.73" stroke="#000" stroke-width="3"/>
<line x1="1514.50" y1="1447.39" x2="1530.50" y2="1447.39" stroke="#000" stroke-width="3"/>
<circle cx="1522.50" cy="1440.13" r="9" fill="none" stroke="#000" stroke-width="2.6"/>
<line x1="1569.60" y1="1421.59" x2="1569.60" y2="1445.37" stroke="#000" stroke-width="2.6"/>
<line x1="1561.60" y1="1421.59" x2="1577.60" y2="1421.59" stroke="#000" stroke-width="3"/>
<line x1="1561.60" y1="1445.37" x2="1577.60" y2="1445.37" stroke="#000" stroke-width="3"/>
<circle cx="1569.60" cy="1436.91" r="10" fill="#000"/>
<line x1="1663.80" y1="1854.57" x2="1663.80" y2="1862.63" stroke="#000" stroke-width="2.6"/>
<line x1="1655.80" y1="1854.57" x2="1671.80" y2="1854.57" stroke="#000" stroke-width="3"/>
<line x1="1655.80" y1="1862.63" x2="1671.80" y2="1862.63" stroke="#000" stroke-width="3"/>
<rect x="1655.30" y="1850.10" width="17" height="17" fill="none" stroke="#000" stroke-width="2.6"/>
<text transform="translate(1649.35,1850.58) scale(0.9,1)" font-family="'DejaVu Sans', sans-serif" font-weight="bold" font-size="58" fill="#b1cce5" stroke="#b1cce5" stroke-width="0.6">*</text>
<line x1="1710.90" y1="1844.89" x2="1710.90" y2="1852.96" stroke="#000" stroke-width="2.6"/>
<line x1="1702.90" y1="1844.89" x2="1718.90" y2="1844.89" stroke="#000" stroke-width="3"/>
<line x1="1702.90" y1="1852.96" x2="1718.90" y2="1852.96" stroke="#000" stroke-width="3"/>
<rect x="1701.15" y="1839.17" width="19.5" height="19.5" fill="#000"/>
<text transform="translate(1697.05,1837.28) scale(0.9,1)" font-family="'DejaVu Sans', sans-serif" font-weight="bold" font-size="58" fill="#005c95" stroke="#005c95" stroke-width="0.6">*</text>
<line x1="1758.00" y1="1395.38" x2="1758.00" y2="1464.32" stroke="#000" stroke-width="2.6"/>
<line x1="1750.00" y1="1395.38" x2="1766.00" y2="1395.38" stroke="#000" stroke-width="3"/>
<line x1="1750.00" y1="1464.32" x2="1766.00" y2="1464.32" stroke="#000" stroke-width="3"/>
<circle cx="1758.00" cy="1455.05" r="9" fill="none" stroke="#000" stroke-width="2.6"/>
<line x1="1805.10" y1="1431.26" x2="1805.10" y2="1481.25" stroke="#000" stroke-width="2.6"/>
<line x1="1797.10" y1="1431.26" x2="1813.10" y2="1431.26" stroke="#000" stroke-width="3"/>
<line x1="1797.10" y1="1481.25" x2="1813.10" y2="1481.25" stroke="#000" stroke-width="3"/>
<circle cx="1805.10" cy="1471.98" r="10" fill="#000"/>
<line x1="205.8" y1="1052.8" x2="205.8" y2="1878.8" stroke="#bdbdbd" stroke-width="2"/>
<line x1="1853.9" y1="1052.8" x2="1853.9" y2="1878.8" stroke="#8c8c8c" stroke-width="2"/>
<line x1="204.0" y1="1054.8" x2="1852.0" y2="1054.8" stroke="#a8a8a8" stroke-width="2"/>
<line x1="204.0" y1="1877.0" x2="1852.0" y2="1877.0" stroke="#b4b4b4" stroke-width="2"/>
<rect x="204.0" y="1052.8" width="1648.00" height="826.00" fill="none" stroke="#333" stroke-width="1.9"/>
<line x1="204" y1="1858.60" x2="211" y2="1858.60" stroke="#3c3c3c" stroke-width="2.5"/>
<line x1="1846" y1="1858.60" x2="1853" y2="1858.60" stroke="#3c3c3c" stroke-width="2.5"/>
<line x1="204" y1="1777.97" x2="211" y2="1777.97" stroke="#3c3c3c" stroke-width="2.5"/>
<line x1="1846" y1="1777.97" x2="1853" y2="1777.97" stroke="#3c3c3c" stroke-width="2.5"/>
<line x1="204" y1="1697.34" x2="211" y2="1697.34" stroke="#3c3c3c" stroke-width="2.5"/>
<line x1="1846" y1="1697.34" x2="1853" y2="1697.34" stroke="#3c3c3c" stroke-width="2.5"/>
<line x1="204" y1="1616.71" x2="211" y2="1616.71" stroke="#3c3c3c" stroke-width="2.5"/>
<line x1="1846" y1="1616.71" x2="1853" y2="1616.71" stroke="#3c3c3c" stroke-width="2.5"/>
<line x1="204" y1="1536.08" x2="211" y2="1536.08" stroke="#3c3c3c" stroke-width="2.5"/>
<line x1="1846" y1="1536.08" x2="1853" y2="1536.08" stroke="#3c3c3c" stroke-width="2.5"/>
<line x1="204" y1="1455.45" x2="211" y2="1455.45" stroke="#3c3c3c" stroke-width="2.5"/>
<line x1="1846" y1="1455.45" x2="1853" y2="1455.45" stroke="#3c3c3c" stroke-width="2.5"/>
<line x1="204" y1="1374.82" x2="211" y2="1374.82" stroke="#3c3c3c" stroke-width="2.5"/>
<line x1="1846" y1="1374.82" x2="1853" y2="1374.82" stroke="#3c3c3c" stroke-width="2.5"/>
<line x1="204" y1="1294.19" x2="211" y2="1294.19" stroke="#3c3c3c" stroke-width="2.5"/>
<line x1="1846" y1="1294.19" x2="1853" y2="1294.19" stroke="#3c3c3c" stroke-width="2.5"/>
<line x1="204" y1="1213.56" x2="211" y2="1213.56" stroke="#3c3c3c" stroke-width="2.5"/>
<line x1="1846" y1="1213.56" x2="1853" y2="1213.56" stroke="#3c3c3c" stroke-width="2.5"/>
<line x1="204" y1="1132.93" x2="211" y2="1132.93" stroke="#3c3c3c" stroke-width="2.5"/>
<line x1="1846" y1="1132.93" x2="1853" y2="1132.93" stroke="#3c3c3c" stroke-width="2.5"/>
<line x1="204" y1="1052.30" x2="211" y2="1052.30" stroke="#3c3c3c" stroke-width="2.5"/>
<line x1="1846" y1="1052.30" x2="1853" y2="1052.30" stroke="#3c3c3c" stroke-width="2.5"/>
<line x1="321.80" y1="1052.3" x2="321.80" y2="1059.3" stroke="#3c3c3c" stroke-width="2.5"/>
<line x1="321.80" y1="1871.8" x2="321.80" y2="1878.8" stroke="#3c3c3c" stroke-width="2.5"/>
<line x1="557.30" y1="1052.3" x2="557.30" y2="1059.3" stroke="#3c3c3c" stroke-width="2.5"/>
<line x1="557.30" y1="1871.8" x2="557.30" y2="1878.8" stroke="#3c3c3c" stroke-width="2.5"/>
<line x1="792.80" y1="1052.3" x2="792.80" y2="1059.3" stroke="#3c3c3c" stroke-width="2.5"/>
<line x1="792.80" y1="1871.8" x2="792.80" y2="1878.8" stroke="#3c3c3c" stroke-width="2.5"/>
<line x1="1028.30" y1="1052.3" x2="1028.30" y2="1059.3" stroke="#3c3c3c" stroke-width="2.5"/>
<line x1="1028.30" y1="1871.8" x2="1028.30" y2="1878.8" stroke="#3c3c3c" stroke-width="2.5"/>
<line x1="1263.80" y1="1052.3" x2="1263.80" y2="1059.3" stroke="#3c3c3c" stroke-width="2.5"/>
<line x1="1263.80" y1="1871.8" x2="1263.80" y2="1878.8" stroke="#3c3c3c" stroke-width="2.5"/>
<line x1="1499.30" y1="1052.3" x2="1499.30" y2="1059.3" stroke="#3c3c3c" stroke-width="2.5"/>
<line x1="1499.30" y1="1871.8" x2="1499.30" y2="1878.8" stroke="#3c3c3c" stroke-width="2.5"/>
<line x1="1734.80" y1="1052.3" x2="1734.80" y2="1059.3" stroke="#3c3c3c" stroke-width="2.5"/>
<line x1="1734.80" y1="1871.8" x2="1734.80" y2="1878.8" stroke="#3c3c3c" stroke-width="2.5"/>
<text transform="translate(160.29,1875.90) scale(0.984,1)" font-family="'Liberation Sans', Arial, sans-serif" font-size="52.3" font-weight="normal" fill="#000">0</text>
<text transform="translate(131.67,1795.27) scale(0.984,1)" font-family="'Liberation Sans', Arial, sans-serif" font-size="52.3" font-weight="normal" fill="#000">20</text>
<text transform="translate(131.67,1714.64) scale(0.984,1)" font-family="'Liberation Sans', Arial, sans-serif" font-size="52.3" font-weight="normal" fill="#000">40</text>
<text transform="translate(131.67,1634.01) scale(0.984,1)" font-family="'Liberation Sans', Arial, sans-serif" font-size="52.3" font-weight="normal" fill="#000">60</text>
<text transform="translate(131.67,1553.38) scale(0.984,1)" font-family="'Liberation Sans', Arial, sans-serif" font-size="52.3" font-weight="normal" fill="#000">80</text>
<text transform="translate(103.05,1472.75) scale(0.984,1)" font-family="'Liberation Sans', Arial, sans-serif" font-size="52.3" font-weight="normal" fill="#000">100</text>
<text transform="translate(103.05,1392.12) scale(0.984,1)" font-family="'Liberation Sans', Arial, sans-serif" font-size="52.3" font-weight="normal" fill="#000">120</text>
<text transform="translate(103.05,1311.49) scale(0.984,1)" font-family="'Liberation Sans', Arial, sans-serif" font-size="52.3" font-weight="normal" fill="#000">140</text>
<text transform="translate(103.05,1230.86) scale(0.984,1)" font-family="'Liberation Sans', Arial, sans-serif" font-size="52.3" font-weight="normal" fill="#000">160</text>
<text transform="translate(103.05,1150.23) scale(0.984,1)" font-family="'Liberation Sans', Arial, sans-serif" font-size="52.3" font-weight="normal" fill="#000">180</text>
<text transform="translate(103.05,1069.60) scale(0.984,1)" font-family="'Liberation Sans', Arial, sans-serif" font-size="52.3" font-weight="normal" fill="#000">200</text>
<text transform="translate(78.60,1611.26) rotate(-90) scale(0.9659,1)" font-family="'Liberation Sans', Arial, sans-serif" font-size="52.5" font-weight="bold" fill="#000">% of control</text>
<text transform="translate(309.67,1937.80) scale(1.0440,1)" font-family="'Liberation Sans', Arial, sans-serif" font-size="52.3" font-weight="normal" fill="#000">0</text>
<text transform="translate(498.51,1937.80) scale(0.9464,1)" font-family="'Liberation Sans', Arial, sans-serif" font-size="52.3" font-weight="normal" fill="#000">3.125</text>
<text transform="translate(756.46,1937.80) scale(0.9563,1)" font-family="'Liberation Sans', Arial, sans-serif" font-size="52.3" font-weight="normal" fill="#000">6.25</text>
<text transform="translate(977.65,1937.80) scale(0.9413,1)" font-family="'Liberation Sans', Arial, sans-serif" font-size="52.3" font-weight="normal" fill="#000">12.5</text>
<text transform="translate(1234.62,1937.80) scale(0.9429,1)" font-family="'Liberation Sans', Arial, sans-serif" font-size="52.3" font-weight="normal" fill="#000">25</text>
<text transform="translate(1474.39,1937.80) scale(0.9605,1)" font-family="'Liberation Sans', Arial, sans-serif" font-size="52.3" font-weight="normal" fill="#000">50</text>
<text transform="translate(1688.56,1937.80) scale(0.9639,1)" font-family="'Liberation Sans', Arial, sans-serif" font-size="52.3" font-weight="normal" fill="#000">100</text>
<text transform="translate(795.61,2009.90) scale(1.0037,1)" font-family="'Liberation Sans', Arial, sans-serif" font-size="50.8" font-weight="bold" fill="#000">Concentration [µM]</text>
<text transform="translate(1548.30,1115.50) scale(1.0217,1)" font-family="'Liberation Sans', Arial, sans-serif" font-size="58.7" font-weight="bold" fill="#000">U-118 MG</text>
<rect x="288.00" y="1068.40" width="655.5" height="61.7" fill="#fff" stroke="#505050" stroke-width="2.6"/>
<rect x="300.50" y="1078.90" width="35" height="41" fill="#b1cce5"/>
<line x1="300.50" y1="1079.90" x2="335.50" y2="1079.90" stroke="#555" stroke-width="2"/>
<line x1="300.50" y1="1118.90" x2="335.50" y2="1118.90" stroke="#555" stroke-width="2"/>
<rect x="309.50" y="1090.90" width="17" height="17" fill="none" stroke="#000" stroke-width="2.6"/>
<text transform="translate(350.98,1113.60) scale(0.9970,1)" font-family="'Liberation Sans', Arial, sans-serif" font-size="44.4" font-weight="bold" fill="#000">G4</text>
<rect x="427.60" y="1078.90" width="35" height="41" fill="#005c95"/>
<line x1="427.60" y1="1079.90" x2="462.60" y2="1079.90" stroke="#555" stroke-width="2"/>
<line x1="427.60" y1="1118.90" x2="462.60" y2="1118.90" stroke="#555" stroke-width="2"/>
<rect x="435.35" y="1089.65" width="19.5" height="19.5" fill="#000"/>
<text transform="translate(477.77,1113.60) scale(1.0062,1)" font-family="'Liberation Sans', Arial, sans-serif" font-size="44.4" font-weight="bold" fill="#000">G4B</text>
<rect x="585.80" y="1078.90" width="35" height="41" fill="#d3e2ba"/>
<line x1="585.80" y1="1079.90" x2="620.80" y2="1079.90" stroke="#555" stroke-width="2"/>
<line x1="585.80" y1="1118.90" x2="620.80" y2="1118.90" stroke="#555" stroke-width="2"/>
<circle cx="603.30" cy="1099.40" r="9" fill="none" stroke="#000" stroke-width="2.6"/>
<text transform="translate(637.33,1113.60) scale(1.0243,1)" font-family="'Liberation Sans', Arial, sans-serif" font-size="44.4" font-weight="bold" fill="#000">G4gl</text>
<rect x="752.40" y="1078.90" width="35" height="41" fill="#6a9335"/>
<line x1="752.40" y1="1079.90" x2="787.40" y2="1079.90" stroke="#555" stroke-width="2"/>
<line x1="752.40" y1="1118.90" x2="787.40" y2="1118.90" stroke="#555" stroke-width="2"/>
<circle cx="769.90" cy="1099.40" r="10" fill="#000"/>
<text transform="translate(802.73,1113.60) scale(1.0295,1)" font-family="'Liberation Sans', Arial, sans-serif" font-size="44.4" font-weight="bold" fill="#000">G4Bgl</text>
<line x1="204" y1="2863.30" x2="1853.5" y2="2863.30" stroke="#e6e6e6" stroke-width="2.8"/>
<line x1="204" y1="2782.69" x2="1853.5" y2="2782.69" stroke="#e6e6e6" stroke-width="2.8"/>
<line x1="204" y1="2702.08" x2="1853.5" y2="2702.08" stroke="#e6e6e6" stroke-width="2.8"/>
<line x1="204" y1="2621.47" x2="1853.5" y2="2621.47" stroke="#e6e6e6" stroke-width="2.8"/>
<line x1="204" y1="2540.86" x2="1853.5" y2="2540.86" stroke="#e6e6e6" stroke-width="2.8"/>
<line x1="204" y1="2460.25" x2="1853.5" y2="2460.25" stroke="#e6e6e6" stroke-width="2.8"/>
<line x1="204" y1="2379.64" x2="1853.5" y2="2379.64" stroke="#e6e6e6" stroke-width="2.8"/>
<line x1="204" y1="2299.03" x2="1853.5" y2="2299.03" stroke="#e6e6e6" stroke-width="2.8"/>
<line x1="204" y1="2218.42" x2="1853.5" y2="2218.42" stroke="#e6e6e6" stroke-width="2.8"/>
<line x1="204" y1="2137.81" x2="1853.5" y2="2137.81" stroke="#e6e6e6" stroke-width="2.8"/>
<line x1="204" y1="2057.20" x2="1853.5" y2="2057.20" stroke="#e6e6e6" stroke-width="2.8"/>
<rect x="234.65" y="2460.05" width="33.8" height="423.35" fill="#b1cce5" stroke="#9fb4c8" stroke-width="1.2"/>
<rect x="281.75" y="2460.05" width="33.8" height="423.35" fill="#005c95" stroke="#2b5578" stroke-width="1.2"/>
<rect x="328.85" y="2460.05" width="33.8" height="423.35" fill="#d3e2ba" stroke="#b3c19f" stroke-width="1.2"/>
<rect x="375.95" y="2460.05" width="33.8" height="423.35" fill="#6a9335" stroke="#5b7a3a" stroke-width="1.2"/>
<rect x="470.22" y="2254.90" width="33.8" height="628.50" fill="#b1cce5" stroke="#9fb4c8" stroke-width="1.2"/>
<rect x="517.32" y="2323.42" width="33.8" height="559.98" fill="#005c95" stroke="#2b5578" stroke-width="1.2"/>
<rect x="564.42" y="2375.41" width="33.8" height="507.99" fill="#d3e2ba" stroke="#b3c19f" stroke-width="1.2"/>
<rect x="611.52" y="2272.23" width="33.8" height="611.17" fill="#6a9335" stroke="#5b7a3a" stroke-width="1.2"/>
<rect x="705.79" y="2298.43" width="33.8" height="584.97" fill="#b1cce5" stroke="#9fb4c8" stroke-width="1.2"/>
<rect x="752.89" y="2311.32" width="33.8" height="572.08" fill="#005c95" stroke="#2b5578" stroke-width="1.2"/>
<rect x="799.99" y="2340.34" width="33.8" height="543.06" fill="#d3e2ba" stroke="#b3c19f" stroke-width="1.2"/>
<rect x="847.09" y="2211.37" width="33.8" height="672.03" fill="#6a9335" stroke="#5b7a3a" stroke-width="1.2"/>
<rect x="941.36" y="2355.26" width="33.8" height="528.14" fill="#b1cce5" stroke="#9fb4c8" stroke-width="1.2"/>
<rect x="988.46" y="2412.89" width="33.8" height="470.51" fill="#005c95" stroke="#2b5578" stroke-width="1.2"/>
<rect x="1035.56" y="2331.07" width="33.8" height="552.33" fill="#d3e2ba" stroke="#b3c19f" stroke-width="1.2"/>
<rect x="1082.66" y="2204.92" width="33.8" height="678.48" fill="#6a9335" stroke="#5b7a3a" stroke-width="1.2"/>
<rect x="1176.93" y="2465.29" width="33.8" height="418.11" fill="#b1cce5" stroke="#9fb4c8" stroke-width="1.2"/>
<rect x="1224.03" y="2616.84" width="33.8" height="266.56" fill="#005c95" stroke="#2b5578" stroke-width="1.2"/>
<rect x="1271.13" y="2291.58" width="33.8" height="591.82" fill="#d3e2ba" stroke="#b3c19f" stroke-width="1.2"/>
<rect x="1318.23" y="2200.89" width="33.8" height="682.51" fill="#6a9335" stroke="#5b7a3a" stroke-width="1.2"/>
<rect x="1412.50" y="2604.34" width="33.8" height="279.06" fill="#b1cce5" stroke="#9fb4c8" stroke-width="1.2"/>
<rect x="1459.60" y="2848.59" width="33.8" height="34.81" fill="#005c95" stroke="#2b5578" stroke-width="1.2"/>
<rect x="1506.70" y="2275.45" width="33.8" height="607.95" fill="#d3e2ba" stroke="#b3c19f" stroke-width="1.2"/>
<rect x="1553.80" y="2212.98" width="33.8" height="670.42" fill="#6a9335" stroke="#5b7a3a" stroke-width="1.2"/>
<rect x="1648.07" y="2795.79" width="33.8" height="87.61" fill="#b1cce5" stroke="#9fb4c8" stroke-width="1.2"/>
<rect x="1695.17" y="2847.38" width="33.8" height="36.02" fill="#005c95" stroke="#2b5578" stroke-width="1.2"/>
<rect x="1742.27" y="2326.24" width="33.8" height="557.16" fill="#d3e2ba" stroke="#b3c19f" stroke-width="1.2"/>
<rect x="1789.37" y="2284.32" width="33.8" height="599.08" fill="#6a9335" stroke="#5b7a3a" stroke-width="1.2"/>
<line x1="251.55" y1="2446.75" x2="251.55" y2="2485.44" stroke="#000" stroke-width="2.6"/>
<line x1="243.55" y1="2446.75" x2="259.55" y2="2446.75" stroke="#000" stroke-width="3"/>
<line x1="243.55" y1="2485.44" x2="259.55" y2="2485.44" stroke="#000" stroke-width="3"/>
<rect x="243.05" y="2451.55" width="17" height="17" fill="none" stroke="#000" stroke-width="2.6"/>
<line x1="298.65" y1="2454.00" x2="298.65" y2="2466.10" stroke="#000" stroke-width="2.6"/>
<line x1="290.65" y1="2454.00" x2="306.65" y2="2454.00" stroke="#000" stroke-width="3"/>
<line x1="290.65" y1="2466.10" x2="306.65" y2="2466.10" stroke="#000" stroke-width="3"/>
<rect x="288.90" y="2450.30" width="19.5" height="19.5" fill="#000"/>
<line x1="345.75" y1="2451.59" x2="345.75" y2="2486.65" stroke="#000" stroke-width="2.6"/>
<line x1="337.75" y1="2451.59" x2="353.75" y2="2451.59" stroke="#000" stroke-width="3"/>
<line x1="337.75" y1="2486.65" x2="353.75" y2="2486.65" stroke="#000" stroke-width="3"/>
<circle cx="345.75" cy="2460.05" r="9" fill="none" stroke="#000" stroke-width="2.6"/>
<line x1="392.85" y1="2444.33" x2="392.85" y2="2470.53" stroke="#000" stroke-width="2.6"/>
<line x1="384.85" y1="2444.33" x2="400.85" y2="2444.33" stroke="#000" stroke-width="3"/>
<line x1="384.85" y1="2470.53" x2="400.85" y2="2470.53" stroke="#000" stroke-width="3"/>
<circle cx="392.85" cy="2460.05" r="10" fill="#000"/>
<line x1="487.12" y1="2237.16" x2="487.12" y2="2327.04" stroke="#000" stroke-width="2.6"/>
<line x1="479.12" y1="2237.16" x2="495.12" y2="2237.16" stroke="#000" stroke-width="3"/>
<line x1="479.12" y1="2327.04" x2="495.12" y2="2327.04" stroke="#000" stroke-width="3"/>
<rect x="478.62" y="2246.40" width="17" height="17" fill="none" stroke="#000" stroke-width="2.6"/>
<text transform="translate(471.35,2236.58) scale(0.9,1)" font-family="'DejaVu Sans', sans-serif" font-weight="bold" font-size="58" fill="#b1cce5" stroke="#b1cce5" stroke-width="0.6">*</text>
<line x1="534.22" y1="2237.16" x2="534.22" y2="2323.42" stroke="#000" stroke-width="2.6"/>
<line x1="526.22" y1="2237.16" x2="542.22" y2="2237.16" stroke="#000" stroke-width="3"/>
<rect x="524.47" y="2313.67" width="19.5" height="19.5" fill="#000"/>
<line x1="581.32" y1="2364.12" x2="581.32" y2="2389.52" stroke="#000" stroke-width="2.6"/>
<line x1="573.32" y1="2364.12" x2="589.32" y2="2364.12" stroke="#000" stroke-width="3"/>
<line x1="573.32" y1="2389.52" x2="589.32" y2="2389.52" stroke="#000" stroke-width="3"/>
<circle cx="581.32" cy="2375.41" r="9" fill="none" stroke="#000" stroke-width="2.6"/>
<line x1="628.42" y1="2229.10" x2="628.42" y2="2272.23" stroke="#000" stroke-width="2.6"/>
<line x1="620.42" y1="2229.10" x2="636.42" y2="2229.10" stroke="#000" stroke-width="3"/>
<circle cx="628.42" cy="2272.23" r="10" fill="#000"/>
<line x1="722.69" y1="2267.39" x2="722.69" y2="2342.36" stroke="#000" stroke-width="2.6"/>
<line x1="714.69" y1="2267.39" x2="730.69" y2="2267.39" stroke="#000" stroke-width="3"/>
<line x1="714.69" y1="2342.36" x2="730.69" y2="2342.36" stroke="#000" stroke-width="3"/>
<rect x="714.19" y="2289.93" width="17" height="17" fill="none" stroke="#000" stroke-width="2.6"/>
<line x1="769.79" y1="2299.64" x2="769.79" y2="2343.97" stroke="#000" stroke-width="2.6"/>
<line x1="761.79" y1="2299.64" x2="777.79" y2="2299.64" stroke="#000" stroke-width="3"/>
<line x1="761.79" y1="2343.97" x2="777.79" y2="2343.97" stroke="#000" stroke-width="3"/>
<rect x="760.04" y="2301.57" width="19.5" height="19.5" fill="#000"/>
<line x1="816.89" y1="2317.77" x2="816.89" y2="2354.05" stroke="#000" stroke-width="2.6"/>
<line x1="808.89" y1="2317.77" x2="824.89" y2="2317.77" stroke="#000" stroke-width="3"/>
<line x1="808.89" y1="2354.05" x2="824.89" y2="2354.05" stroke="#000" stroke-width="3"/>
<circle cx="816.89" cy="2340.34" r="9" fill="none" stroke="#000" stroke-width="2.6"/>
<line x1="863.99" y1="2181.54" x2="863.99" y2="2265.38" stroke="#000" stroke-width="2.6"/>
<line x1="855.99" y1="2181.54" x2="871.99" y2="2181.54" stroke="#000" stroke-width="3"/>
<line x1="855.99" y1="2265.38" x2="871.99" y2="2265.38" stroke="#000" stroke-width="3"/>
<circle cx="863.99" cy="2211.37" r="10" fill="#000"/>
<text transform="translate(844.25,2190.58) scale(0.9,1)" font-family="'DejaVu Sans', sans-serif" font-weight="bold" font-size="58" fill="#6a9335" stroke="#6a9335" stroke-width="0.6">*</text>
<line x1="958.26" y1="2347.20" x2="958.26" y2="2392.34" stroke="#000" stroke-width="2.6"/>
<line x1="950.26" y1="2347.20" x2="966.26" y2="2347.20" stroke="#000" stroke-width="3"/>
<line x1="950.26" y1="2392.34" x2="966.26" y2="2392.34" stroke="#000" stroke-width="3"/>
<rect x="949.76" y="2346.76" width="17" height="17" fill="none" stroke="#000" stroke-width="2.6"/>
<line x1="1005.36" y1="2393.95" x2="1005.36" y2="2412.89" stroke="#000" stroke-width="2.6"/>
<line x1="997.36" y1="2393.95" x2="1013.36" y2="2393.95" stroke="#000" stroke-width="3"/>
<rect x="995.61" y="2403.14" width="19.5" height="19.5" fill="#000"/>
<line x1="1052.46" y1="2313.74" x2="1052.46" y2="2346.39" stroke="#000" stroke-width="2.6"/>
<line x1="1044.46" y1="2313.74" x2="1060.46" y2="2313.74" stroke="#000" stroke-width="3"/>
<line x1="1044.46" y1="2346.39" x2="1060.46" y2="2346.39" stroke="#000" stroke-width="3"/>
<circle cx="1052.46" cy="2331.07" r="9" fill="none" stroke="#000" stroke-width="2.6"/>
<text transform="translate(1035.75,2315.38) scale(0.9,1)" font-family="'DejaVu Sans', sans-serif" font-weight="bold" font-size="58" fill="#d3e2ba" stroke="#d3e2ba" stroke-width="0.6">*</text>
<line x1="1099.56" y1="2179.53" x2="1099.56" y2="2245.22" stroke="#000" stroke-width="2.6"/>
<line x1="1091.56" y1="2179.53" x2="1107.56" y2="2179.53" stroke="#000" stroke-width="3"/>
<line x1="1091.56" y1="2245.22" x2="1107.56" y2="2245.22" stroke="#000" stroke-width="3"/>
<circle cx="1099.56" cy="2204.92" r="10" fill="#000"/>
<text transform="translate(1085.65,2178.78) scale(0.9,1)" font-family="'DejaVu Sans', sans-serif" font-weight="bold" font-size="58" fill="#6a9335" stroke="#6a9335" stroke-width="0.6">*</text>
<line x1="1193.83" y1="2456.42" x2="1193.83" y2="2492.29" stroke="#000" stroke-width="2.6"/>
<line x1="1185.83" y1="2456.42" x2="1201.83" y2="2456.42" stroke="#000" stroke-width="3"/>
<line x1="1185.83" y1="2492.29" x2="1201.83" y2="2492.29" stroke="#000" stroke-width="3"/>
<rect x="1185.33" y="2456.79" width="17" height="17" fill="none" stroke="#000" stroke-width="2.6"/>
<line x1="1240.93" y1="2573.31" x2="1240.93" y2="2616.84" stroke="#000" stroke-width="2.6"/>
<line x1="1232.93" y1="2573.31" x2="1248.93" y2="2573.31" stroke="#000" stroke-width="3"/>
<rect x="1231.18" y="2607.09" width="19.5" height="19.5" fill="#000"/>
<text transform="translate(1227.25,2566.18) scale(0.9,1)" font-family="'DejaVu Sans', sans-serif" font-weight="bold" font-size="58" fill="#005c95" stroke="#005c95" stroke-width="0.6">*</text>
<line x1="1288.03" y1="2277.07" x2="1288.03" y2="2306.49" stroke="#000" stroke-width="2.6"/>
<line x1="1280.03" y1="2277.07" x2="1296.03" y2="2277.07" stroke="#000" stroke-width="3"/>
<line x1="1280.03" y1="2306.49" x2="1296.03" y2="2306.49" stroke="#000" stroke-width="3"/>
<circle cx="1288.03" cy="2291.58" r="9" fill="none" stroke="#000" stroke-width="2.6"/>
<text transform="translate(1274.75,2276.38) scale(0.9,1)" font-family="'DejaVu Sans', sans-serif" font-weight="bold" font-size="58" fill="#d3e2ba" stroke="#d3e2ba" stroke-width="0.6">*</text>
<line x1="1335.13" y1="2173.08" x2="1335.13" y2="2226.28" stroke="#000" stroke-width="2.6"/>
<line x1="1327.13" y1="2173.08" x2="1343.13" y2="2173.08" stroke="#000" stroke-width="3"/>
<line x1="1327.13" y1="2226.28" x2="1343.13" y2="2226.28" stroke="#000" stroke-width="3"/>
<circle cx="1335.13" cy="2200.89" r="10" fill="#000"/>
<text transform="translate(1320.75,2174.08) scale(0.9,1)" font-family="'DejaVu Sans', sans-serif" font-weight="bold" font-size="58" fill="#6a9335" stroke="#6a9335" stroke-width="0.6">*</text>
<line x1="1429.40" y1="2578.95" x2="1429.40" y2="2604.34" stroke="#000" stroke-width="2.6"/>
<line x1="1421.40" y1="2578.95" x2="1437.40" y2="2578.95" stroke="#000" stroke-width="3"/>
<rect x="1420.90" y="2595.84" width="17" height="17" fill="none" stroke="#000" stroke-width="2.6"/>
<text transform="translate(1414.25,2578.38) scale(0.9,1)" font-family="'DejaVu Sans', sans-serif" font-weight="bold" font-size="58" fill="#b1cce5" stroke="#b1cce5" stroke-width="0.6">*</text>
<line x1="1476.50" y1="2835.69" x2="1476.50" y2="2848.59" stroke="#000" stroke-width="2.6"/>
<line x1="1468.50" y1="2835.69" x2="1484.50" y2="2835.69" stroke="#000" stroke-width="3"/>
<rect x="1466.75" y="2838.84" width="19.5" height="19.5" fill="#000"/>
<text transform="translate(1461.95,2829.38) scale(0.9,1)" font-family="'DejaVu Sans', sans-serif" font-weight="bold" font-size="58" fill="#005c95" stroke="#005c95" stroke-width="0.6">*</text>
<line x1="1523.60" y1="2266.99" x2="1523.60" y2="2294.40" stroke="#000" stroke-width="2.6"/>
<line x1="1515.60" y1="2266.99" x2="1531.60" y2="2266.99" stroke="#000" stroke-width="3"/>
<line x1="1515.60" y1="2294.40" x2="1531.60" y2="2294.40" stroke="#000" stroke-width="3"/>
<circle cx="1523.60" cy="2275.45" r="9" fill="none" stroke="#000" stroke-width="2.6"/>
<text transform="translate(1507.25,2266.78) scale(0.9,1)" font-family="'DejaVu Sans', sans-serif" font-weight="bold" font-size="58" fill="#d3e2ba" stroke="#d3e2ba" stroke-width="0.6">*</text>
<line x1="1570.70" y1="2169.85" x2="1570.70" y2="2231.12" stroke="#000" stroke-width="2.6"/>
<line x1="1562.70" y1="2169.85" x2="1578.70" y2="2169.85" stroke="#000" stroke-width="3"/>
<line x1="1562.70" y1="2231.12" x2="1578.70" y2="2231.12" stroke="#000" stroke-width="3"/>
<circle cx="1570.70" cy="2212.98" r="10" fill="#000"/>
<text transform="translate(1554.85,2174.08) scale(0.9,1)" font-family="'DejaVu Sans', sans-serif" font-weight="bold" font-size="58" fill="#6a9335" stroke="#6a9335" stroke-width="0.6">*</text>
<line x1="1664.97" y1="2784.10" x2="1664.97" y2="2817.96" stroke="#000" stroke-width="2.6"/>
<line x1="1656.97" y1="2784.10" x2="1672.97" y2="2784.10" stroke="#000" stroke-width="3"/>
<line x1="1656.97" y1="2817.96" x2="1672.97" y2="2817.96" stroke="#000" stroke-width="3"/>
<rect x="1656.47" y="2787.29" width="17" height="17" fill="none" stroke="#000" stroke-width="2.6"/>
<text transform="translate(1648.75,2776.98) scale(0.9,1)" font-family="'DejaVu Sans', sans-serif" font-weight="bold" font-size="58" fill="#b1cce5" stroke="#b1cce5" stroke-width="0.6">*</text>
<line x1="1712.07" y1="2843.35" x2="1712.07" y2="2851.41" stroke="#000" stroke-width="2.6"/>
<line x1="1704.07" y1="2843.35" x2="1720.07" y2="2843.35" stroke="#000" stroke-width="3"/>
<line x1="1704.07" y1="2851.41" x2="1720.07" y2="2851.41" stroke="#000" stroke-width="3"/>
<rect x="1702.32" y="2837.63" width="19.5" height="19.5" fill="#000"/>
<text transform="translate(1696.35,2836.68) scale(0.9,1)" font-family="'DejaVu Sans', sans-serif" font-weight="bold" font-size="58" fill="#005c95" stroke="#005c95" stroke-width="0.6">*</text>
<line x1="1759.17" y1="2306.49" x2="1759.17" y2="2340.34" stroke="#000" stroke-width="2.6"/>
<line x1="1751.17" y1="2306.49" x2="1767.17" y2="2306.49" stroke="#000" stroke-width="3"/>
<line x1="1751.17" y1="2340.34" x2="1767.17" y2="2340.34" stroke="#000" stroke-width="3"/>
<circle cx="1759.17" cy="2326.24" r="9" fill="none" stroke="#000" stroke-width="2.6"/>
<text transform="translate(1742.15,2303.28) scale(0.9,1)" font-family="'DejaVu Sans', sans-serif" font-weight="bold" font-size="58" fill="#d3e2ba" stroke="#d3e2ba" stroke-width="0.6">*</text>
<line x1="1806.27" y1="2263.36" x2="1806.27" y2="2302.46" stroke="#000" stroke-width="2.6"/>
<line x1="1798.27" y1="2263.36" x2="1814.27" y2="2263.36" stroke="#000" stroke-width="3"/>
<line x1="1798.27" y1="2302.46" x2="1814.27" y2="2302.46" stroke="#000" stroke-width="3"/>
<circle cx="1806.27" cy="2284.32" r="10" fill="#000"/>
<line x1="205.8" y1="2057.5" x2="205.8" y2="2883.7" stroke="#bdbdbd" stroke-width="2"/>
<line x1="1852.1" y1="2057.5" x2="1852.1" y2="2883.7" stroke="#8c8c8c" stroke-width="2"/>
<line x1="204.0" y1="2055.5" x2="1853.9" y2="2055.5" stroke="#a8a8a8" stroke-width="2"/>
<line x1="204.0" y1="2882.0" x2="1853.9" y2="2882.0" stroke="#b4b4b4" stroke-width="2"/>
<rect x="204.0" y="2057.5" width="1649.90" height="826.20" fill="none" stroke="#333" stroke-width="1.9"/>
<line x1="204" y1="2863.10" x2="211" y2="2863.10" stroke="#3c3c3c" stroke-width="2.5"/>
<line x1="1846.5" y1="2863.10" x2="1853.5" y2="2863.10" stroke="#3c3c3c" stroke-width="2.5"/>
<line x1="204" y1="2782.49" x2="211" y2="2782.49" stroke="#3c3c3c" stroke-width="2.5"/>
<line x1="1846.5" y1="2782.49" x2="1853.5" y2="2782.49" stroke="#3c3c3c" stroke-width="2.5"/>
<line x1="204" y1="2701.88" x2="211" y2="2701.88" stroke="#3c3c3c" stroke-width="2.5"/>
<line x1="1846.5" y1="2701.88" x2="1853.5" y2="2701.88" stroke="#3c3c3c" stroke-width="2.5"/>
<line x1="204" y1="2621.27" x2="211" y2="2621.27" stroke="#3c3c3c" stroke-width="2.5"/>
<line x1="1846.5" y1="2621.27" x2="1853.5" y2="2621.27" stroke="#3c3c3c" stroke-width="2.5"/>
<line x1="204" y1="2540.66" x2="211" y2="2540.66" stroke="#3c3c3c" stroke-width="2.5"/>
<line x1="1846.5" y1="2540.66" x2="1853.5" y2="2540.66" stroke="#3c3c3c" stroke-width="2.5"/>
<line x1="204" y1="2460.05" x2="211" y2="2460.05" stroke="#3c3c3c" stroke-width="2.5"/>
<line x1="1846.5" y1="2460.05" x2="1853.5" y2="2460.05" stroke="#3c3c3c" stroke-width="2.5"/>
<line x1="204" y1="2379.44" x2="211" y2="2379.44" stroke="#3c3c3c" stroke-width="2.5"/>
<line x1="1846.5" y1="2379.44" x2="1853.5" y2="2379.44" stroke="#3c3c3c" stroke-width="2.5"/>
<line x1="204" y1="2298.83" x2="211" y2="2298.83" stroke="#3c3c3c" stroke-width="2.5"/>
<line x1="1846.5" y1="2298.83" x2="1853.5" y2="2298.83" stroke="#3c3c3c" stroke-width="2.5"/>
<line x1="204" y1="2218.22" x2="211" y2="2218.22" stroke="#3c3c3c" stroke-width="2.5"/>
<line x1="1846.5" y1="2218.22" x2="1853.5" y2="2218.22" stroke="#3c3c3c" stroke-width="2.5"/>
<line x1="204" y1="2137.61" x2="211" y2="2137.61" stroke="#3c3c3c" stroke-width="2.5"/>
<line x1="1846.5" y1="2137.61" x2="1853.5" y2="2137.61" stroke="#3c3c3c" stroke-width="2.5"/>
<line x1="204" y1="2057.00" x2="211" y2="2057.00" stroke="#3c3c3c" stroke-width="2.5"/>
<line x1="1846.5" y1="2057.00" x2="1853.5" y2="2057.00" stroke="#3c3c3c" stroke-width="2.5"/>
<line x1="321.80" y1="2057" x2="321.80" y2="2064" stroke="#3c3c3c" stroke-width="2.5"/>
<line x1="321.80" y1="2876.4" x2="321.80" y2="2883.4" stroke="#3c3c3c" stroke-width="2.5"/>
<line x1="557.37" y1="2057" x2="557.37" y2="2064" stroke="#3c3c3c" stroke-width="2.5"/>
<line x1="557.37" y1="2876.4" x2="557.37" y2="2883.4" stroke="#3c3c3c" stroke-width="2.5"/>
<line x1="792.94" y1="2057" x2="792.94" y2="2064" stroke="#3c3c3c" stroke-width="2.5"/>
<line x1="792.94" y1="2876.4" x2="792.94" y2="2883.4" stroke="#3c3c3c" stroke-width="2.5"/>
<line x1="1028.51" y1="2057" x2="1028.51" y2="2064" stroke="#3c3c3c" stroke-width="2.5"/>
<line x1="1028.51" y1="2876.4" x2="1028.51" y2="2883.4" stroke="#3c3c3c" stroke-width="2.5"/>
<line x1="1264.08" y1="2057" x2="1264.08" y2="2064" stroke="#3c3c3c" stroke-width="2.5"/>
<line x1="1264.08" y1="2876.4" x2="1264.08" y2="2883.4" stroke="#3c3c3c" stroke-width="2.5"/>
<line x1="1499.65" y1="2057" x2="1499.65" y2="2064" stroke="#3c3c3c" stroke-width="2.5"/>
<line x1="1499.65" y1="2876.4" x2="1499.65" y2="2883.4" stroke="#3c3c3c" stroke-width="2.5"/>
<line x1="1735.22" y1="2057" x2="1735.22" y2="2064" stroke="#3c3c3c" stroke-width="2.5"/>
<line x1="1735.22" y1="2876.4" x2="1735.22" y2="2883.4" stroke="#3c3c3c" stroke-width="2.5"/>
<text transform="translate(161.19,2880.40) scale(0.984,1)" font-family="'Liberation Sans', Arial, sans-serif" font-size="52.3" font-weight="normal" fill="#000">0</text>
<text transform="translate(132.57,2799.79) scale(0.984,1)" font-family="'Liberation Sans', Arial, sans-serif" font-size="52.3" font-weight="normal" fill="#000">20</text>
<text transform="translate(132.57,2719.18) scale(0.984,1)" font-family="'Liberation Sans', Arial, sans-serif" font-size="52.3" font-weight="normal" fill="#000">40</text>
<text transform="translate(132.57,2638.57) scale(0.984,1)" font-family="'Liberation Sans', Arial, sans-serif" font-size="52.3" font-weight="normal" fill="#000">60</text>
<text transform="translate(132.57,2557.96) scale(0.984,1)" font-family="'Liberation Sans', Arial, sans-serif" font-size="52.3" font-weight="normal" fill="#000">80</text>
<text transform="translate(103.95,2477.35) scale(0.984,1)" font-family="'Liberation Sans', Arial, sans-serif" font-size="52.3" font-weight="normal" fill="#000">100</text>
<text transform="translate(103.95,2396.74) scale(0.984,1)" font-family="'Liberation Sans', Arial, sans-serif" font-size="52.3" font-weight="normal" fill="#000">120</text>
<text transform="translate(103.95,2316.13) scale(0.984,1)" font-family="'Liberation Sans', Arial, sans-serif" font-size="52.3" font-weight="normal" fill="#000">140</text>
<text transform="translate(103.95,2235.52) scale(0.984,1)" font-family="'Liberation Sans', Arial, sans-serif" font-size="52.3" font-weight="normal" fill="#000">160</text>
<text transform="translate(103.95,2154.91) scale(0.984,1)" font-family="'Liberation Sans', Arial, sans-serif" font-size="52.3" font-weight="normal" fill="#000">180</text>
<text transform="translate(103.95,2074.30) scale(0.984,1)" font-family="'Liberation Sans', Arial, sans-serif" font-size="52.3" font-weight="normal" fill="#000">200</text>
<text transform="translate(78.60,2615.46) rotate(-90) scale(0.9655,1)" font-family="'Liberation Sans', Arial, sans-serif" font-size="52.5" font-weight="bold" fill="#000">% of control</text>
<text transform="translate(305.18,2945.20) scale(1.0360,1)" font-family="'Liberation Sans', Arial, sans-serif" font-size="52.3" font-weight="normal" fill="#000">0</text>
<text transform="translate(494.73,2945.20) scale(0.9409,1)" font-family="'Liberation Sans', Arial, sans-serif" font-size="52.3" font-weight="normal" fill="#000">3.125</text>
<text transform="translate(753.90,2945.20) scale(0.9398,1)" font-family="'Liberation Sans', Arial, sans-serif" font-size="52.3" font-weight="normal" fill="#000">6.25</text>
<text transform="translate(973.95,2945.20) scale(0.9413,1)" font-family="'Liberation Sans', Arial, sans-serif" font-size="52.3" font-weight="normal" fill="#000">12.5</text>
<text transform="translate(1229.24,2945.20) scale(0.9729,1)" font-family="'Liberation Sans', Arial, sans-serif" font-size="52.3" font-weight="normal" fill="#000">25</text>
<text transform="translate(1469.05,2945.20) scale(0.9790,1)" font-family="'Liberation Sans', Arial, sans-serif" font-size="52.3" font-weight="normal" fill="#000">50</text>
<text transform="translate(1683.10,2945.20) scale(0.9787,1)" font-family="'Liberation Sans', Arial, sans-serif" font-size="52.3" font-weight="normal" fill="#000">100</text>
<text transform="translate(796.71,3016.30) scale(1.0035,1)" font-family="'Liberation Sans', Arial, sans-serif" font-size="50.8" font-weight="bold" fill="#000">Concentration [µM]</text>
<text transform="translate(1638.18,2121.00) scale(0.9720,1)" font-family="'Liberation Sans', Arial, sans-serif" font-size="58.7" font-weight="bold" fill="#000">HepG2</text>
<rect x="303.90" y="2082.20" width="655.5" height="61.7" fill="#fff" stroke="#505050" stroke-width="2.6"/>
<rect x="316.40" y="2092.70" width="35" height="41" fill="#b1cce5"/>
<line x1="316.40" y1="2093.70" x2="351.40" y2="2093.70" stroke="#555" stroke-width="2"/>
<line x1="316.40" y1="2132.70" x2="351.40" y2="2132.70" stroke="#555" stroke-width="2"/>
<rect x="325.40" y="2104.70" width="17" height="17" fill="none" stroke="#000" stroke-width="2.6"/>
<text transform="translate(366.88,2127.40) scale(0.9970,1)" font-family="'Liberation Sans', Arial, sans-serif" font-size="44.4" font-weight="bold" fill="#000">G4</text>
<rect x="443.50" y="2092.70" width="35" height="41" fill="#005c95"/>
<line x1="443.50" y1="2093.70" x2="478.50" y2="2093.70" stroke="#555" stroke-width="2"/>
<line x1="443.50" y1="2132.70" x2="478.50" y2="2132.70" stroke="#555" stroke-width="2"/>
<rect x="451.25" y="2103.45" width="19.5" height="19.5" fill="#000"/>
<text transform="translate(493.67,2127.40) scale(1.0062,1)" font-family="'Liberation Sans', Arial, sans-serif" font-size="44.4" font-weight="bold" fill="#000">G4B</text>
<rect x="601.70" y="2092.70" width="35" height="41" fill="#d3e2ba"/>
<line x1="601.70" y1="2093.70" x2="636.70" y2="2093.70" stroke="#555" stroke-width="2"/>
<line x1="601.70" y1="2132.70" x2="636.70" y2="2132.70" stroke="#555" stroke-width="2"/>
<circle cx="619.20" cy="2113.20" r="9" fill="none" stroke="#000" stroke-width="2.6"/>
<text transform="translate(653.23,2127.40) scale(1.0243,1)" font-family="'Liberation Sans', Arial, sans-serif" font-size="44.4" font-weight="bold" fill="#000">G4gl</text>
<rect x="768.30" y="2092.70" width="35" height="41" fill="#6a9335"/>
<line x1="768.30" y1="2093.70" x2="803.30" y2="2093.70" stroke="#555" stroke-width="2"/>
<line x1="768.30" y1="2132.70" x2="803.30" y2="2132.70" stroke="#555" stroke-width="2"/>
<circle cx="785.80" cy="2113.20" r="10" fill="#000"/>
<text transform="translate(818.63,2127.40) scale(1.0295,1)" font-family="'Liberation Sans', Arial, sans-serif" font-size="44.4" font-weight="bold" fill="#000">G4Bgl</text>
</svg>
</body></html>
